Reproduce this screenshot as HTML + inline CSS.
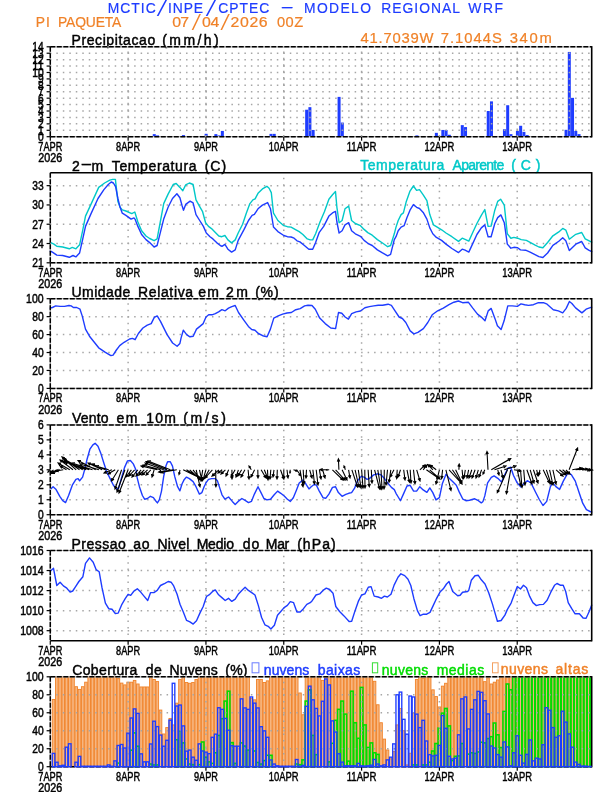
<!DOCTYPE html>
<html><head><meta charset="utf-8"><title>Meteograma WRF - PI PAQUETA</title>
<style>
html,body{margin:0;padding:0;background:#fff;}
svg{display:block;}
text{font-family:'Liberation Sans', Arial, sans-serif;}
</style></head>
<body>
<svg width="612" height="792" viewBox="0 0 612 792">
<rect x="0" y="0" width="612" height="792" fill="#fff"/>
<text transform="translate(107.76,13.00) scale(0.92,1)" font-size="15.1" fill="#1e3cff" stroke="#1e3cff" stroke-width="0.2" textLength="52.14" lengthAdjust="spacing">MCTIC</text>
<text transform="translate(156.17,13.93) scale(1.764,1)" style="font-family:&quot;DejaVu Sans&quot;,sans-serif;font-weight:200" font-size="19.10" fill="#1e3cff" stroke="#1e3cff" stroke-width="0.0">/</text>
<text transform="translate(168.12,13.00) scale(0.92,1)" font-size="15.1" fill="#1e3cff" stroke="#1e3cff" stroke-width="0.2" textLength="37.91" lengthAdjust="spacing">INPE</text>
<text transform="translate(205.27,13.93) scale(1.764,1)" style="font-family:&quot;DejaVu Sans&quot;,sans-serif;font-weight:200" font-size="19.10" fill="#1e3cff" stroke="#1e3cff" stroke-width="0.0">/</text>
<text transform="translate(218.29,13.00) scale(0.92,1)" font-size="15.1" fill="#1e3cff" stroke="#1e3cff" stroke-width="0.2" textLength="55.58" lengthAdjust="spacing">CPTEC</text>
<text transform="translate(280.16,11.91) scale(2.740,1)" font-size="15.1" fill="#1e3cff" stroke="#1e3cff" stroke-width="0.263">-</text>
<text transform="translate(303.96,13.00) scale(0.92,1)" font-size="15.1" fill="#1e3cff" stroke="#1e3cff" stroke-width="0.2" textLength="72.83" lengthAdjust="spacing">MODELO</text>
<text transform="translate(381.26,13.00) scale(0.92,1)" font-size="15.1" fill="#1e3cff" stroke="#1e3cff" stroke-width="0.2" textLength="85.65" lengthAdjust="spacing">REGIONAL</text>
<text transform="translate(468.14,13.00) scale(0.92,1)" font-size="15.1" fill="#1e3cff" stroke="#1e3cff" stroke-width="0.2" textLength="37.95" lengthAdjust="spacing">WRF</text>
<text transform="translate(35.76,26.70) scale(0.92,1)" font-size="15.1" fill="#f08228" stroke="#f08228" stroke-width="0.2" textLength="15.24" lengthAdjust="spacing">PI</text>
<text transform="translate(58.06,26.70) scale(0.92,1)" font-size="15.1" fill="#f08228" stroke="#f08228" stroke-width="0.2" textLength="68.66" lengthAdjust="spacing">PAQUETA</text>
<text transform="translate(172.28,26.70) scale(1.05,1)" font-size="15.1" fill="#f08228" stroke="#f08228" stroke-width="0.2" textLength="16.02" lengthAdjust="spacing">07</text>
<text transform="translate(191.23,27.97) scale(1.617,1)" style="font-family:&quot;DejaVu Sans&quot;,sans-serif;font-weight:200" font-size="18.62" fill="#f08228" stroke="#f08228" stroke-width="0.0">/</text>
<text transform="translate(201.98,26.70) scale(1.05,1)" font-size="15.1" fill="#f08228" stroke="#f08228" stroke-width="0.2" textLength="16.56" lengthAdjust="spacing">04</text>
<text transform="translate(219.92,27.97) scale(1.634,1)" style="font-family:&quot;DejaVu Sans&quot;,sans-serif;font-weight:200" font-size="18.62" fill="#f08228" stroke="#f08228" stroke-width="0.0">/</text>
<text transform="translate(230.40,26.70) scale(1.05,1)" font-size="15.1" fill="#f08228" stroke="#f08228" stroke-width="0.2" textLength="35.52" lengthAdjust="spacing">2026</text>
<text transform="translate(277.03,26.70) scale(0.97,1)" font-size="15.1" fill="#f08228" stroke="#f08228" stroke-width="0.2" textLength="26.94" lengthAdjust="spacing">00Z</text>
<text transform="translate(360.56,42.90) scale(0.97,1)" font-size="15.3" fill="#f08228" stroke="#f08228" stroke-width="0.2" textLength="75.15" lengthAdjust="spacing">41.7039W</text>
<text transform="translate(440.84,42.90) scale(0.97,1)" font-size="15.3" fill="#f08228" stroke="#f08228" stroke-width="0.2" textLength="62.83" lengthAdjust="spacing">7.1044S</text>
<text transform="translate(509.63,42.90) scale(0.97,1)" font-size="15.3" fill="#f08228" stroke="#f08228" stroke-width="0.2" textLength="43.65" lengthAdjust="spacing">340m</text>
<text transform="translate(71.45,45.00) scale(1.0,1)" font-size="14.0" fill="#000" stroke="#000" stroke-width="0.45" textLength="83.74" lengthAdjust="spacing">Precipitacao</text>
<text transform="translate(162.23,45.00) scale(1.0,1)" font-size="14.0" fill="#000" stroke="#000" stroke-width="0.45" textLength="56.44" lengthAdjust="spacing">(mm/h)</text>
<text transform="translate(71.90,170.80) scale(1.0,1)" font-size="14.0" fill="#000" stroke="#000" stroke-width="0.45" textLength="9.11" lengthAdjust="spacing">2</text>
<text transform="translate(80.26,169.32) scale(2.633,1)" font-size="14.0" fill="#000" stroke="#000" stroke-width="0.273">-</text>
<text transform="translate(91.57,170.80) scale(1.0,1)" font-size="14.0" fill="#000" stroke="#000" stroke-width="0.45" textLength="12.45" lengthAdjust="spacing">m</text>
<text transform="translate(111.79,170.80) scale(1.0,1)" font-size="14.0" fill="#000" stroke="#000" stroke-width="0.45" textLength="84.81" lengthAdjust="spacing">Temperatura</text>
<text transform="translate(204.73,170.80) scale(1.0,1)" font-size="14.0" fill="#000" stroke="#000" stroke-width="0.45" textLength="21.34" lengthAdjust="spacing">(C)</text>
<text transform="translate(360.19,170.30) scale(1.0,1)" font-size="14.0" fill="#00c8c8" stroke="#00c8c8" stroke-width="0.45" textLength="84.11" lengthAdjust="spacing">Temperatura</text>
<text transform="translate(452.57,170.30) scale(1.0,1)" font-size="14.0" fill="#00c8c8" stroke="#00c8c8" stroke-width="0.45" textLength="51.75" lengthAdjust="spacing">Aparente</text>
<text transform="translate(511.13,170.30) scale(1.0,1)" font-size="14.0" fill="#00c8c8" stroke="#00c8c8" stroke-width="0.45" textLength="29.34" lengthAdjust="spacing">(C)</text>
<text transform="translate(71.52,296.70) scale(1.0,1)" font-size="14.0" fill="#000" stroke="#000" stroke-width="0.45" textLength="58.90" lengthAdjust="spacing">Umidade</text>
<text transform="translate(137.95,296.70) scale(1.0,1)" font-size="14.0" fill="#000" stroke="#000" stroke-width="0.45" textLength="55.15" lengthAdjust="spacing">Relativa</text>
<text transform="translate(198.21,296.70) scale(1.0,1)" font-size="14.0" fill="#000" stroke="#000" stroke-width="0.45" textLength="20.62" lengthAdjust="spacing">em</text>
<text transform="translate(225.90,296.70) scale(1.0,1)" font-size="14.0" fill="#000" stroke="#000" stroke-width="0.45" textLength="22.03" lengthAdjust="spacing">2m</text>
<text transform="translate(255.13,296.70) scale(1.0,1)" font-size="14.0" fill="#000" stroke="#000" stroke-width="0.45" textLength="23.44" lengthAdjust="spacing">(%)</text>
<text transform="translate(72.04,422.80) scale(1.0,1)" font-size="14.0" fill="#000" stroke="#000" stroke-width="0.45" textLength="36.55" lengthAdjust="spacing">Vento</text>
<text transform="translate(116.41,422.80) scale(1.0,1)" font-size="14.0" fill="#000" stroke="#000" stroke-width="0.45" textLength="21.12" lengthAdjust="spacing">em</text>
<text transform="translate(146.33,422.80) scale(1.0,1)" font-size="14.0" fill="#000" stroke="#000" stroke-width="0.45" textLength="29.69" lengthAdjust="spacing">10m</text>
<text transform="translate(183.23,422.80) scale(1.0,1)" font-size="14.0" fill="#000" stroke="#000" stroke-width="0.45" textLength="42.64" lengthAdjust="spacing">(m/s)</text>
<text transform="translate(71.45,549.00) scale(1.0,1)" font-size="14.0" fill="#000" stroke="#000" stroke-width="0.45" textLength="54.34" lengthAdjust="spacing">Pressao</text>
<text transform="translate(133.31,549.00) scale(1.0,1)" font-size="14.0" fill="#000" stroke="#000" stroke-width="0.45" textLength="16.18" lengthAdjust="spacing">ao</text>
<text transform="translate(157.45,549.00) scale(1.0,1)" font-size="14.0" fill="#000" stroke="#000" stroke-width="0.45" textLength="31.98" lengthAdjust="spacing">Nivel</text>
<text transform="translate(196.65,549.00) scale(1.0,1)" font-size="14.0" fill="#000" stroke="#000" stroke-width="0.45" textLength="37.34" lengthAdjust="spacing">Medio</text>
<text transform="translate(242.71,549.00) scale(1.0,1)" font-size="14.0" fill="#000" stroke="#000" stroke-width="0.45" textLength="16.68" lengthAdjust="spacing">do</text>
<text transform="translate(265.85,549.00) scale(1.0,1)" font-size="14.0" fill="#000" stroke="#000" stroke-width="0.45" textLength="23.38" lengthAdjust="spacing">Mar</text>
<text transform="translate(297.13,549.00) scale(1.0,1)" font-size="14.0" fill="#000" stroke="#000" stroke-width="0.45" textLength="38.54" lengthAdjust="spacing">(hPa)</text>
<text transform="translate(72.19,674.80) scale(1.0,1)" font-size="14.0" fill="#000" stroke="#000" stroke-width="0.45" textLength="65.21" lengthAdjust="spacing">Cobertura</text>
<text transform="translate(145.81,674.80) scale(1.0,1)" font-size="14.0" fill="#000" stroke="#000" stroke-width="0.45" textLength="15.91" lengthAdjust="spacing">de</text>
<text transform="translate(169.45,674.80) scale(1.0,1)" font-size="14.0" fill="#000" stroke="#000" stroke-width="0.45" textLength="48.25" lengthAdjust="spacing">Nuvens</text>
<text transform="translate(225.33,674.80) scale(1.0,1)" font-size="14.0" fill="#000" stroke="#000" stroke-width="0.45" textLength="22.14" lengthAdjust="spacing">(%)</text>
<rect x="252.1" y="662.8" width="6.8" height="10.0" fill="none" stroke="#6a7cff" stroke-width="1"/>
<text transform="translate(263.77,674.50) scale(1.0,1)" font-size="14.0" fill="#1e3cff" stroke="#1e3cff" stroke-width="0.45" textLength="45.54" lengthAdjust="spacing">nuvens</text>
<text transform="translate(317.70,674.50) scale(1.0,1)" font-size="14.0" fill="#1e3cff" stroke="#1e3cff" stroke-width="0.45" textLength="42.61" lengthAdjust="spacing">baixas</text>
<rect x="372.4" y="662.8" width="5.3" height="10.0" fill="none" stroke="#33dd33" stroke-width="1"/>
<text transform="translate(381.77,674.50) scale(1.0,1)" font-size="14.0" fill="#00dc00" stroke="#00dc00" stroke-width="0.45" textLength="46.54" lengthAdjust="spacing">nuvens</text>
<text transform="translate(436.67,674.50) scale(1.0,1)" font-size="14.0" fill="#00dc00" stroke="#00dc00" stroke-width="0.45" textLength="47.54" lengthAdjust="spacing">medias</text>
<rect x="492.5" y="662.8" width="5.6" height="10.0" fill="none" stroke="#f4a060" stroke-width="1"/>
<text transform="translate(500.77,674.30) scale(1.0,1)" font-size="14.0" fill="#f08228" stroke="#f08228" stroke-width="0.45" textLength="47.24" lengthAdjust="spacing">nuvens</text>
<text transform="translate(555.51,674.30) scale(1.0,1)" font-size="14.0" fill="#f08228" stroke="#f08228" stroke-width="0.45" textLength="32.70" lengthAdjust="spacing">altas</text>
<rect x="152.76" y="134.13" width="3.0" height="2.57" fill="#1e3cff"/>
<rect x="156.00" y="135.42" width="3.0" height="1.28" fill="#1e3cff"/>
<rect x="181.94" y="135.09" width="3.0" height="1.61" fill="#1e3cff"/>
<rect x="204.64" y="133.81" width="3.0" height="2.89" fill="#1e3cff"/>
<rect x="214.37" y="134.13" width="3.0" height="2.57" fill="#1e3cff"/>
<rect x="217.61" y="135.42" width="3.0" height="1.28" fill="#1e3cff"/>
<rect x="220.85" y="130.92" width="3.0" height="5.78" fill="#1e3cff"/>
<rect x="269.49" y="133.87" width="3.0" height="2.83" fill="#1e3cff"/>
<rect x="272.73" y="133.87" width="3.0" height="2.83" fill="#1e3cff"/>
<rect x="305.16" y="109.73" width="3.0" height="26.97" fill="#1e3cff"/>
<rect x="308.40" y="107.16" width="3.0" height="29.54" fill="#1e3cff"/>
<rect x="311.64" y="129.96" width="3.0" height="6.74" fill="#1e3cff"/>
<rect x="321.37" y="136.06" width="3.0" height="0.64" fill="#1e3cff"/>
<rect x="337.58" y="96.89" width="3.0" height="39.81" fill="#1e3cff"/>
<rect x="340.82" y="122.57" width="3.0" height="14.13" fill="#1e3cff"/>
<rect x="386.22" y="136.06" width="3.0" height="0.64" fill="#1e3cff"/>
<rect x="389.46" y="136.06" width="3.0" height="0.64" fill="#1e3cff"/>
<rect x="392.71" y="136.06" width="3.0" height="0.64" fill="#1e3cff"/>
<rect x="415.40" y="135.42" width="3.0" height="1.28" fill="#1e3cff"/>
<rect x="434.86" y="132.85" width="3.0" height="3.85" fill="#1e3cff"/>
<rect x="441.34" y="129.96" width="3.0" height="6.74" fill="#1e3cff"/>
<rect x="444.59" y="129.96" width="3.0" height="6.74" fill="#1e3cff"/>
<rect x="447.83" y="134.77" width="3.0" height="1.93" fill="#1e3cff"/>
<rect x="460.80" y="125.14" width="3.0" height="11.56" fill="#1e3cff"/>
<rect x="464.04" y="127.07" width="3.0" height="9.63" fill="#1e3cff"/>
<rect x="467.28" y="136.06" width="3.0" height="0.64" fill="#1e3cff"/>
<rect x="486.74" y="111.01" width="3.0" height="25.69" fill="#1e3cff"/>
<rect x="489.98" y="101.38" width="3.0" height="35.32" fill="#1e3cff"/>
<rect x="502.95" y="129.25" width="3.0" height="7.45" fill="#1e3cff"/>
<rect x="506.19" y="105.23" width="3.0" height="31.47" fill="#1e3cff"/>
<rect x="509.44" y="134.13" width="3.0" height="2.57" fill="#1e3cff"/>
<rect x="515.92" y="130.92" width="3.0" height="5.78" fill="#1e3cff"/>
<rect x="519.16" y="125.78" width="3.0" height="10.92" fill="#1e3cff"/>
<rect x="522.41" y="131.88" width="3.0" height="4.82" fill="#1e3cff"/>
<rect x="525.65" y="135.09" width="3.0" height="1.61" fill="#1e3cff"/>
<rect x="535.38" y="136.06" width="3.0" height="0.64" fill="#1e3cff"/>
<rect x="554.83" y="136.06" width="3.0" height="0.64" fill="#1e3cff"/>
<rect x="564.56" y="129.83" width="3.0" height="6.87" fill="#1e3cff"/>
<rect x="567.80" y="51.94" width="3.0" height="84.76" fill="#1e3cff"/>
<rect x="571.04" y="97.85" width="3.0" height="38.85" fill="#1e3cff"/>
<rect x="574.29" y="130.92" width="3.0" height="5.78" fill="#1e3cff"/>
<rect x="577.53" y="134.13" width="3.0" height="2.57" fill="#1e3cff"/>
<rect x="580.77" y="136.06" width="3.0" height="0.64" fill="#1e3cff"/>
<line x1="50.3" y1="130.28" x2="591.7" y2="130.28" stroke="#a6a6a6" stroke-width="1.5" stroke-dasharray="1.5 4.985" stroke-dashoffset="0.45"/>
<line x1="50.3" y1="123.86" x2="591.7" y2="123.86" stroke="#a6a6a6" stroke-width="1.5" stroke-dasharray="1.5 4.985" stroke-dashoffset="0.45"/>
<line x1="50.3" y1="117.44" x2="591.7" y2="117.44" stroke="#a6a6a6" stroke-width="1.5" stroke-dasharray="1.5 4.985" stroke-dashoffset="0.45"/>
<line x1="50.3" y1="111.01" x2="591.7" y2="111.01" stroke="#a6a6a6" stroke-width="1.5" stroke-dasharray="1.5 4.985" stroke-dashoffset="0.45"/>
<line x1="50.3" y1="104.59" x2="591.7" y2="104.59" stroke="#a6a6a6" stroke-width="1.5" stroke-dasharray="1.5 4.985" stroke-dashoffset="0.45"/>
<line x1="50.3" y1="98.17" x2="591.7" y2="98.17" stroke="#a6a6a6" stroke-width="1.5" stroke-dasharray="1.5 4.985" stroke-dashoffset="0.45"/>
<line x1="50.3" y1="91.75" x2="591.7" y2="91.75" stroke="#a6a6a6" stroke-width="1.5" stroke-dasharray="1.5 4.985" stroke-dashoffset="0.45"/>
<line x1="50.3" y1="85.33" x2="591.7" y2="85.33" stroke="#a6a6a6" stroke-width="1.5" stroke-dasharray="1.5 4.985" stroke-dashoffset="0.45"/>
<line x1="50.3" y1="78.91" x2="591.7" y2="78.91" stroke="#a6a6a6" stroke-width="1.5" stroke-dasharray="1.5 4.985" stroke-dashoffset="0.45"/>
<line x1="50.3" y1="72.49" x2="591.7" y2="72.49" stroke="#a6a6a6" stroke-width="1.5" stroke-dasharray="1.5 4.985" stroke-dashoffset="0.45"/>
<line x1="50.3" y1="66.06" x2="591.7" y2="66.06" stroke="#a6a6a6" stroke-width="1.5" stroke-dasharray="1.5 4.985" stroke-dashoffset="0.45"/>
<line x1="50.3" y1="59.64" x2="591.7" y2="59.64" stroke="#a6a6a6" stroke-width="1.5" stroke-dasharray="1.5 4.985" stroke-dashoffset="0.45"/>
<line x1="50.3" y1="53.22" x2="591.7" y2="53.22" stroke="#a6a6a6" stroke-width="1.5" stroke-dasharray="1.5 4.985" stroke-dashoffset="0.45"/>
<line x1="128.12" y1="136.7" x2="128.12" y2="46.8" stroke="#a6a6a6" stroke-width="1.5" stroke-dasharray="2.4 4.021" stroke-dashoffset="0.6"/>
<line x1="205.94" y1="136.7" x2="205.94" y2="46.8" stroke="#a6a6a6" stroke-width="1.5" stroke-dasharray="2.4 4.021" stroke-dashoffset="0.6"/>
<line x1="283.76" y1="136.7" x2="283.76" y2="46.8" stroke="#a6a6a6" stroke-width="1.5" stroke-dasharray="2.4 4.021" stroke-dashoffset="0.6"/>
<line x1="361.58" y1="136.7" x2="361.58" y2="46.8" stroke="#a6a6a6" stroke-width="1.5" stroke-dasharray="2.4 4.021" stroke-dashoffset="0.6"/>
<line x1="439.40" y1="136.7" x2="439.40" y2="46.8" stroke="#a6a6a6" stroke-width="1.5" stroke-dasharray="2.4 4.021" stroke-dashoffset="0.6"/>
<line x1="517.22" y1="136.7" x2="517.22" y2="46.8" stroke="#a6a6a6" stroke-width="1.5" stroke-dasharray="2.4 4.021" stroke-dashoffset="0.6"/>
<line x1="50.3" y1="46.8" x2="591.7" y2="46.8" stroke="#b4b4b4" stroke-width="1.2"/>
<line x1="50.3" y1="136.7" x2="591.7" y2="136.7" stroke="#b4b4b4" stroke-width="1.2"/>
<line x1="50.3" y1="46.8" x2="50.3" y2="136.7" stroke="#b4b4b4" stroke-width="1.2"/>
<line x1="50.3" y1="46.8" x2="591.7" y2="46.8" stroke="#000" stroke-width="1.5" stroke-dasharray="5 1.5"/>
<line x1="50.3" y1="136.7" x2="591.7" y2="136.7" stroke="#000" stroke-width="1.5" stroke-dasharray="5 1.5"/>
<line x1="50.3" y1="46.8" x2="50.3" y2="136.7" stroke="#000" stroke-width="1.5" stroke-dasharray="5 1.5"/>
<line x1="591.7" y1="46.099999999999994" x2="591.7" y2="137.39999999999998" stroke="#000" stroke-width="1.6"/>
<line x1="46.6" y1="136.70" x2="50.3" y2="136.70" stroke="#000" stroke-width="1.2"/>
<text x="37.90" y="141.05" font-size="12.1" fill="#000" stroke="#000" stroke-width="0.45" textLength="5.70" lengthAdjust="spacingAndGlyphs">0</text>
<line x1="46.6" y1="130.28" x2="50.3" y2="130.28" stroke="#000" stroke-width="1.2"/>
<text x="37.90" y="134.63" font-size="12.1" fill="#000" stroke="#000" stroke-width="0.45" textLength="5.70" lengthAdjust="spacingAndGlyphs">1</text>
<line x1="46.6" y1="123.86" x2="50.3" y2="123.86" stroke="#000" stroke-width="1.2"/>
<text x="37.90" y="128.21" font-size="12.1" fill="#000" stroke="#000" stroke-width="0.45" textLength="5.70" lengthAdjust="spacingAndGlyphs">2</text>
<line x1="46.6" y1="117.44" x2="50.3" y2="117.44" stroke="#000" stroke-width="1.2"/>
<text x="37.90" y="121.79" font-size="12.1" fill="#000" stroke="#000" stroke-width="0.45" textLength="5.70" lengthAdjust="spacingAndGlyphs">3</text>
<line x1="46.6" y1="111.01" x2="50.3" y2="111.01" stroke="#000" stroke-width="1.2"/>
<text x="37.90" y="115.36" font-size="12.1" fill="#000" stroke="#000" stroke-width="0.45" textLength="5.70" lengthAdjust="spacingAndGlyphs">4</text>
<line x1="46.6" y1="104.59" x2="50.3" y2="104.59" stroke="#000" stroke-width="1.2"/>
<text x="37.90" y="108.94" font-size="12.1" fill="#000" stroke="#000" stroke-width="0.45" textLength="5.70" lengthAdjust="spacingAndGlyphs">5</text>
<line x1="46.6" y1="98.17" x2="50.3" y2="98.17" stroke="#000" stroke-width="1.2"/>
<text x="37.90" y="102.52" font-size="12.1" fill="#000" stroke="#000" stroke-width="0.45" textLength="5.70" lengthAdjust="spacingAndGlyphs">6</text>
<line x1="46.6" y1="91.75" x2="50.3" y2="91.75" stroke="#000" stroke-width="1.2"/>
<text x="37.90" y="96.10" font-size="12.1" fill="#000" stroke="#000" stroke-width="0.45" textLength="5.70" lengthAdjust="spacingAndGlyphs">7</text>
<line x1="46.6" y1="85.33" x2="50.3" y2="85.33" stroke="#000" stroke-width="1.2"/>
<text x="37.90" y="89.68" font-size="12.1" fill="#000" stroke="#000" stroke-width="0.45" textLength="5.70" lengthAdjust="spacingAndGlyphs">8</text>
<line x1="46.6" y1="78.91" x2="50.3" y2="78.91" stroke="#000" stroke-width="1.2"/>
<text x="37.90" y="83.26" font-size="12.1" fill="#000" stroke="#000" stroke-width="0.45" textLength="5.70" lengthAdjust="spacingAndGlyphs">9</text>
<line x1="46.6" y1="72.49" x2="50.3" y2="72.49" stroke="#000" stroke-width="1.2"/>
<text x="32.20" y="76.84" font-size="12.1" fill="#000" stroke="#000" stroke-width="0.45" textLength="11.40" lengthAdjust="spacingAndGlyphs">10</text>
<line x1="46.6" y1="66.06" x2="50.3" y2="66.06" stroke="#000" stroke-width="1.2"/>
<text x="32.20" y="70.41" font-size="12.1" fill="#000" stroke="#000" stroke-width="0.45" textLength="11.40" lengthAdjust="spacingAndGlyphs">11</text>
<line x1="46.6" y1="59.64" x2="50.3" y2="59.64" stroke="#000" stroke-width="1.2"/>
<text x="32.20" y="63.99" font-size="12.1" fill="#000" stroke="#000" stroke-width="0.45" textLength="11.40" lengthAdjust="spacingAndGlyphs">12</text>
<line x1="46.6" y1="53.22" x2="50.3" y2="53.22" stroke="#000" stroke-width="1.2"/>
<text x="32.20" y="57.57" font-size="12.1" fill="#000" stroke="#000" stroke-width="0.45" textLength="11.40" lengthAdjust="spacingAndGlyphs">13</text>
<line x1="46.6" y1="46.80" x2="50.3" y2="46.80" stroke="#000" stroke-width="1.2"/>
<text x="32.20" y="51.15" font-size="12.1" fill="#000" stroke="#000" stroke-width="0.45" textLength="11.40" lengthAdjust="spacingAndGlyphs">14</text>
<line x1="50.30" y1="136.7" x2="50.30" y2="140.7" stroke="#000" stroke-width="1.2"/>
<text x="38.25" y="150.70" font-size="12.4" fill="#000" stroke="#000" stroke-width="0.45" textLength="24.10" lengthAdjust="spacingAndGlyphs">7APR</text>
<line x1="128.12" y1="136.7" x2="128.12" y2="140.7" stroke="#000" stroke-width="1.2"/>
<text x="116.07" y="150.70" font-size="12.4" fill="#000" stroke="#000" stroke-width="0.45" textLength="24.10" lengthAdjust="spacingAndGlyphs">8APR</text>
<line x1="205.94" y1="136.7" x2="205.94" y2="140.7" stroke="#000" stroke-width="1.2"/>
<text x="193.89" y="150.70" font-size="12.4" fill="#000" stroke="#000" stroke-width="0.45" textLength="24.10" lengthAdjust="spacingAndGlyphs">9APR</text>
<line x1="283.76" y1="136.7" x2="283.76" y2="140.7" stroke="#000" stroke-width="1.2"/>
<text x="268.86" y="150.70" font-size="12.4" fill="#000" stroke="#000" stroke-width="0.45" textLength="29.80" lengthAdjust="spacingAndGlyphs">10APR</text>
<line x1="361.58" y1="136.7" x2="361.58" y2="140.7" stroke="#000" stroke-width="1.2"/>
<text x="346.68" y="150.70" font-size="12.4" fill="#000" stroke="#000" stroke-width="0.45" textLength="29.80" lengthAdjust="spacingAndGlyphs">11APR</text>
<line x1="439.40" y1="136.7" x2="439.40" y2="140.7" stroke="#000" stroke-width="1.2"/>
<text x="424.50" y="150.70" font-size="12.4" fill="#000" stroke="#000" stroke-width="0.45" textLength="29.80" lengthAdjust="spacingAndGlyphs">12APR</text>
<line x1="517.22" y1="136.7" x2="517.22" y2="140.7" stroke="#000" stroke-width="1.2"/>
<text x="502.32" y="150.70" font-size="12.4" fill="#000" stroke="#000" stroke-width="0.45" textLength="29.80" lengthAdjust="spacingAndGlyphs">13APR</text>
<text x="38.30" y="162.00" font-size="12.4" fill="#000" stroke="#000" stroke-width="0.45" textLength="24.00" lengthAdjust="spacingAndGlyphs">2026</text>
<line x1="50.3" y1="243.51" x2="591.7" y2="243.51" stroke="#a6a6a6" stroke-width="1.5" stroke-dasharray="1.5 4.985" stroke-dashoffset="0.45"/>
<line x1="50.3" y1="224.23" x2="591.7" y2="224.23" stroke="#a6a6a6" stroke-width="1.5" stroke-dasharray="1.5 4.985" stroke-dashoffset="0.45"/>
<line x1="50.3" y1="204.94" x2="591.7" y2="204.94" stroke="#a6a6a6" stroke-width="1.5" stroke-dasharray="1.5 4.985" stroke-dashoffset="0.45"/>
<line x1="50.3" y1="185.66" x2="591.7" y2="185.66" stroke="#a6a6a6" stroke-width="1.5" stroke-dasharray="1.5 4.985" stroke-dashoffset="0.45"/>
<line x1="128.12" y1="262.8" x2="128.12" y2="172.8" stroke="#a6a6a6" stroke-width="1.5" stroke-dasharray="1.5 4.985" stroke-dashoffset="0.75"/>
<line x1="205.94" y1="262.8" x2="205.94" y2="172.8" stroke="#a6a6a6" stroke-width="1.5" stroke-dasharray="1.5 4.985" stroke-dashoffset="0.75"/>
<line x1="283.76" y1="262.8" x2="283.76" y2="172.8" stroke="#a6a6a6" stroke-width="1.5" stroke-dasharray="1.5 4.985" stroke-dashoffset="0.75"/>
<line x1="361.58" y1="262.8" x2="361.58" y2="172.8" stroke="#a6a6a6" stroke-width="1.5" stroke-dasharray="1.5 4.985" stroke-dashoffset="0.75"/>
<line x1="439.40" y1="262.8" x2="439.40" y2="172.8" stroke="#a6a6a6" stroke-width="1.5" stroke-dasharray="1.5 4.985" stroke-dashoffset="0.75"/>
<line x1="517.22" y1="262.8" x2="517.22" y2="172.8" stroke="#a6a6a6" stroke-width="1.5" stroke-dasharray="1.5 4.985" stroke-dashoffset="0.75"/>
<polyline points="50.2,242.3 53.9,244.1 56.8,246.3 62.7,247.0 69.3,248.8 72.3,247.4 75.9,248.8 79.6,244.8 82.6,230.8 85.5,216.1 90.6,205.1 98.7,187.4 104.6,183.0 109.8,180.1 112.7,179.4 115.4,179.4 115.9,183.8 117.9,201.4 120.1,207.3 122.3,209.9 125.9,211.0 131.8,213.6 134.8,212.0 137.9,222.0 141.6,230.8 146.0,236.0 149.7,238.5 154.1,240.7 157.1,238.9 160.0,223.5 163.7,203.6 168.1,194.1 173.2,184.5 176.2,183.5 179.9,187.4 182.8,190.8 185.7,184.9 189.4,183.0 193.1,184.5 196.0,199.9 199.7,206.6 202.6,211.7 205.6,222.7 208.5,226.4 211.5,228.6 215.1,232.3 218.8,236.0 221.8,236.7 224.9,235.5 227.9,239.9 231.6,242.9 235.2,239.9 238.2,233.0 242.6,224.2 246.3,213.2 249.9,203.6 252.9,199.9 255.1,198.8 258.0,193.3 262.4,188.9 266.9,186.3 269.1,188.2 271.3,192.6 273.5,213.2 277.9,220.5 283.8,225.7 287.4,226.7 291.1,227.1 295.5,229.6 299.2,231.6 302.9,234.5 307.3,238.9 310.2,239.9 312.7,239.9 315.6,233.8 320.0,222.0 324.4,211.7 328.9,199.2 332.5,194.8 335.5,191.6 336.9,207.3 339.1,222.7 342.1,220.5 345.0,208.8 348.7,206.1 351.6,220.5 355.3,223.5 360.5,225.7 364.1,229.4 367.8,232.6 372.2,235.2 377.4,239.6 382.5,243.0 387.7,246.7 390.6,245.5 394.3,233.8 396.0,227.1 398.2,220.5 401.1,214.6 403.4,212.9 406.3,201.4 410.0,191.1 413.4,186.0 416.6,190.4 419.5,189.6 423.2,194.8 426.9,200.7 429.8,214.6 433.5,224.9 437.2,227.1 441.6,229.8 446.0,233.0 451.9,236.7 458.5,241.4 462.2,238.2 465.1,239.4 468.8,241.1 472.5,233.0 476.9,223.5 481.3,215.4 484.8,209.5 488.1,226.4 491.1,226.1 494.8,210.2 497.7,201.4 500.6,199.2 504.3,205.1 507.3,233.8 510.9,238.2 513.9,237.4 517.6,238.2 521.2,239.6 526.4,240.4 530.1,242.3 535.2,245.1 538.9,247.0 542.9,247.8 547.6,242.5 552.9,235.8 558.8,231.9 562.7,228.4 565.8,230.1 569.3,239.2 575.8,234.3 581.7,232.5 585.2,238.9 588.7,240.7 591.7,242.2" fill="none" stroke="#00c8c8" stroke-width="1.4" stroke-linejoin="round" stroke-linecap="round"/>
<polyline points="50.2,251.0 52.4,252.1 56.8,255.1 62.7,255.5 69.3,257.3 73.0,255.5 75.9,256.9 79.6,252.9 82.6,239.6 85.5,226.4 90.6,214.6 98.0,198.5 103.9,189.6 108.3,184.5 111.2,182.0 113.4,183.0 115.6,186.7 117.9,198.5 120.1,207.3 122.3,213.2 125.9,215.4 131.1,219.1 134.0,217.9 135.0,219.1 137.9,226.4 141.6,234.5 146.0,239.6 149.7,242.6 154.1,247.0 157.1,245.5 160.0,233.8 163.7,219.1 168.1,207.3 172.5,198.5 176.9,193.8 179.9,197.7 182.1,205.8 183.5,210.2 185.7,204.4 190.1,201.1 193.1,202.9 196.0,214.6 199.7,220.5 203.4,226.4 206.3,233.0 210.0,236.7 212.9,238.9 216.6,242.6 220.3,245.5 222.0,246.3 224.9,244.4 227.9,249.2 231.6,252.1 235.2,249.9 238.2,240.4 244.1,229.4 248.5,220.5 252.1,215.4 254.4,214.4 258.0,208.8 262.4,205.1 267.6,202.6 270.5,208.8 273.5,227.1 277.9,231.6 283.8,235.5 287.4,236.7 291.1,237.0 294.1,238.2 297.0,240.8 299.9,241.9 304.4,245.5 308.8,249.2 312.7,249.2 315.6,242.6 319.3,232.3 323.7,226.4 328.9,216.1 332.5,212.9 335.5,211.4 336.9,222.0 339.1,233.0 342.1,230.8 345.0,224.9 348.7,222.7 351.6,230.8 355.3,233.8 360.5,236.3 364.1,240.4 367.8,243.3 372.2,245.5 377.4,249.9 382.5,252.9 387.7,255.8 390.6,254.4 394.3,239.6 396.0,236.7 398.2,230.8 401.1,227.1 404.1,225.7 407.0,217.6 410.0,210.2 413.4,204.6 416.6,207.3 419.5,208.5 423.2,212.4 426.9,219.1 429.8,227.9 432.8,233.8 436.4,237.4 441.6,240.4 446.0,244.1 451.9,248.5 458.5,252.6 462.2,249.2 465.1,250.2 468.8,252.1 472.5,244.1 476.9,234.5 481.3,227.9 484.8,224.9 488.1,236.7 491.1,236.7 494.8,223.5 497.7,217.6 500.9,214.9 504.3,222.7 507.3,244.1 510.9,248.2 513.9,247.3 517.6,247.7 520.5,249.9 525.6,250.2 530.1,252.1 534.5,254.4 538.9,256.6 542.9,257.5 547.6,253.0 552.9,245.4 558.8,241.3 562.7,237.8 565.8,240.7 569.3,250.5 575.8,244.2 581.7,241.5 585.2,247.8 588.7,250.1 591.7,251.6" fill="none" stroke="#1e3cff" stroke-width="1.4" stroke-linejoin="round" stroke-linecap="round"/>
<line x1="50.3" y1="262.8" x2="591.7" y2="262.8" stroke="#b4b4b4" stroke-width="1.2"/>
<line x1="50.3" y1="172.8" x2="50.3" y2="262.8" stroke="#b4b4b4" stroke-width="1.2"/>
<line x1="50.3" y1="172.8" x2="591.7" y2="172.8" stroke="#000" stroke-width="1.5" />
<line x1="50.3" y1="262.8" x2="591.7" y2="262.8" stroke="#000" stroke-width="1.5" stroke-dasharray="5 1.5"/>
<line x1="50.3" y1="172.8" x2="50.3" y2="262.8" stroke="#000" stroke-width="1.5" stroke-dasharray="5 1.5"/>
<line x1="591.7" y1="172.10000000000002" x2="591.7" y2="263.5" stroke="#000" stroke-width="1.6"/>
<line x1="46.6" y1="262.80" x2="50.3" y2="262.80" stroke="#000" stroke-width="1.2"/>
<text x="32.20" y="267.15" font-size="12.1" fill="#000" stroke="#000" stroke-width="0.45" textLength="11.40" lengthAdjust="spacingAndGlyphs">21</text>
<line x1="46.6" y1="243.51" x2="50.3" y2="243.51" stroke="#000" stroke-width="1.2"/>
<text x="32.20" y="247.86" font-size="12.1" fill="#000" stroke="#000" stroke-width="0.45" textLength="11.40" lengthAdjust="spacingAndGlyphs">24</text>
<line x1="46.6" y1="224.23" x2="50.3" y2="224.23" stroke="#000" stroke-width="1.2"/>
<text x="32.20" y="228.58" font-size="12.1" fill="#000" stroke="#000" stroke-width="0.45" textLength="11.40" lengthAdjust="spacingAndGlyphs">27</text>
<line x1="46.6" y1="204.94" x2="50.3" y2="204.94" stroke="#000" stroke-width="1.2"/>
<text x="32.20" y="209.29" font-size="12.1" fill="#000" stroke="#000" stroke-width="0.45" textLength="11.40" lengthAdjust="spacingAndGlyphs">30</text>
<line x1="46.6" y1="185.66" x2="50.3" y2="185.66" stroke="#000" stroke-width="1.2"/>
<text x="32.20" y="190.01" font-size="12.1" fill="#000" stroke="#000" stroke-width="0.45" textLength="11.40" lengthAdjust="spacingAndGlyphs">33</text>
<line x1="50.30" y1="262.8" x2="50.30" y2="266.8" stroke="#000" stroke-width="1.2"/>
<text x="38.25" y="276.80" font-size="12.4" fill="#000" stroke="#000" stroke-width="0.45" textLength="24.10" lengthAdjust="spacingAndGlyphs">7APR</text>
<line x1="128.12" y1="262.8" x2="128.12" y2="266.8" stroke="#000" stroke-width="1.2"/>
<text x="116.07" y="276.80" font-size="12.4" fill="#000" stroke="#000" stroke-width="0.45" textLength="24.10" lengthAdjust="spacingAndGlyphs">8APR</text>
<line x1="205.94" y1="262.8" x2="205.94" y2="266.8" stroke="#000" stroke-width="1.2"/>
<text x="193.89" y="276.80" font-size="12.4" fill="#000" stroke="#000" stroke-width="0.45" textLength="24.10" lengthAdjust="spacingAndGlyphs">9APR</text>
<line x1="283.76" y1="262.8" x2="283.76" y2="266.8" stroke="#000" stroke-width="1.2"/>
<text x="268.86" y="276.80" font-size="12.4" fill="#000" stroke="#000" stroke-width="0.45" textLength="29.80" lengthAdjust="spacingAndGlyphs">10APR</text>
<line x1="361.58" y1="262.8" x2="361.58" y2="266.8" stroke="#000" stroke-width="1.2"/>
<text x="346.68" y="276.80" font-size="12.4" fill="#000" stroke="#000" stroke-width="0.45" textLength="29.80" lengthAdjust="spacingAndGlyphs">11APR</text>
<line x1="439.40" y1="262.8" x2="439.40" y2="266.8" stroke="#000" stroke-width="1.2"/>
<text x="424.50" y="276.80" font-size="12.4" fill="#000" stroke="#000" stroke-width="0.45" textLength="29.80" lengthAdjust="spacingAndGlyphs">12APR</text>
<line x1="517.22" y1="262.8" x2="517.22" y2="266.8" stroke="#000" stroke-width="1.2"/>
<text x="502.32" y="276.80" font-size="12.4" fill="#000" stroke="#000" stroke-width="0.45" textLength="29.80" lengthAdjust="spacingAndGlyphs">13APR</text>
<text x="38.30" y="288.10" font-size="12.4" fill="#000" stroke="#000" stroke-width="0.45" textLength="24.00" lengthAdjust="spacingAndGlyphs">2026</text>
<line x1="50.3" y1="370.46" x2="591.7" y2="370.46" stroke="#a6a6a6" stroke-width="1.5" stroke-dasharray="1.5 4.985" stroke-dashoffset="0.45"/>
<line x1="50.3" y1="352.52" x2="591.7" y2="352.52" stroke="#a6a6a6" stroke-width="1.5" stroke-dasharray="1.5 4.985" stroke-dashoffset="0.45"/>
<line x1="50.3" y1="334.58" x2="591.7" y2="334.58" stroke="#a6a6a6" stroke-width="1.5" stroke-dasharray="1.5 4.985" stroke-dashoffset="0.45"/>
<line x1="50.3" y1="316.64" x2="591.7" y2="316.64" stroke="#a6a6a6" stroke-width="1.5" stroke-dasharray="1.5 4.985" stroke-dashoffset="0.45"/>
<line x1="128.12" y1="388.4" x2="128.12" y2="298.7" stroke="#a6a6a6" stroke-width="1.5" stroke-dasharray="1.5 4.985" stroke-dashoffset="0.75"/>
<line x1="205.94" y1="388.4" x2="205.94" y2="298.7" stroke="#a6a6a6" stroke-width="1.5" stroke-dasharray="1.5 4.985" stroke-dashoffset="0.75"/>
<line x1="283.76" y1="388.4" x2="283.76" y2="298.7" stroke="#a6a6a6" stroke-width="1.5" stroke-dasharray="1.5 4.985" stroke-dashoffset="0.75"/>
<line x1="361.58" y1="388.4" x2="361.58" y2="298.7" stroke="#a6a6a6" stroke-width="1.5" stroke-dasharray="1.5 4.985" stroke-dashoffset="0.75"/>
<line x1="439.40" y1="388.4" x2="439.40" y2="298.7" stroke="#a6a6a6" stroke-width="1.5" stroke-dasharray="1.5 4.985" stroke-dashoffset="0.75"/>
<line x1="517.22" y1="388.4" x2="517.22" y2="298.7" stroke="#a6a6a6" stroke-width="1.5" stroke-dasharray="1.5 4.985" stroke-dashoffset="0.75"/>
<polyline points="50.2,308.1 52.4,307.5 55.7,305.9 60.1,306.4 64.5,306.4 69.0,305.5 71.2,305.9 73.4,307.5 76.7,307.5 80.0,309.2 82.2,315.9 85.5,329.1 89.9,336.8 94.3,342.3 98.7,347.8 105.4,352.3 110.9,355.6 113.1,355.1 116.4,350.0 119.7,345.6 124.1,342.3 129.6,339.0 132.5,338.4 135.1,339.7 138.4,333.5 142.9,328.0 147.3,325.1 151.2,323.6 154.3,317.4 157.2,315.9 160.5,321.4 167.1,334.6 172.6,343.0 177.1,346.3 179.9,343.4 181.1,337.9 183.3,330.2 186.6,334.6 189.9,336.8 193.2,336.2 196.5,329.1 199.9,326.4 203.2,323.6 206.0,317.0 208.7,314.8 212.0,314.8 215.3,313.6 218.6,311.9 221.9,309.7 225.2,310.8 228.5,308.1 231.8,306.6 235.2,305.5 238.5,312.5 244.0,320.3 248.4,326.4 251.7,329.5 255.0,330.2 258.3,333.5 262.7,335.7 267.1,336.8 270.4,329.1 273.8,318.1 278.2,315.9 282.6,314.1 287.0,313.0 291.4,312.5 295.8,309.7 300.2,308.6 304.6,305.9 308.0,305.3 312.0,305.5 315.3,309.2 319.7,318.1 325.2,323.6 330.8,328.0 335.6,328.6 338.5,312.5 341.8,313.2 345.1,317.0 348.4,319.2 351.7,313.6 356.1,311.9 360.5,311.0 364.9,307.7 369.4,306.6 373.8,305.9 378.2,305.3 382.6,305.3 388.1,304.2 391.4,305.3 394.7,310.3 399.1,317.0 402.4,318.5 405.8,322.5 410.2,330.9 413.9,333.9 417.9,332.4 423.4,328.6 427.8,322.5 432.2,314.8 437.7,310.8 443.3,308.1 449.0,304.7 453.9,302.2 458.4,301.0 462.6,302.7 468.3,302.2 472.6,307.9 477.5,314.1 481.3,317.1 485.0,320.8 488.2,310.9 491.2,308.4 494.9,318.4 497.4,325.8 501.1,329.5 504.1,320.8 507.8,305.9 512.3,305.9 517.3,306.4 521.0,303.9 524.7,304.7 528.5,305.4 533.4,304.7 538.4,302.7 543.4,302.7 547.1,304.2 553.3,309.7 558.3,310.9 562.7,312.9 566.2,308.4 569.4,301.5 571.9,303.5 575.6,307.9 581.9,312.9 586.1,309.2 591.7,307.2" fill="none" stroke="#1e3cff" stroke-width="1.4" stroke-linejoin="round" stroke-linecap="round"/>
<line x1="50.3" y1="298.7" x2="591.7" y2="298.7" stroke="#b4b4b4" stroke-width="1.2"/>
<line x1="50.3" y1="388.4" x2="591.7" y2="388.4" stroke="#b4b4b4" stroke-width="1.2"/>
<line x1="50.3" y1="298.7" x2="50.3" y2="388.4" stroke="#b4b4b4" stroke-width="1.2"/>
<line x1="50.3" y1="298.7" x2="591.7" y2="298.7" stroke="#000" stroke-width="1.5" stroke-dasharray="5 1.5"/>
<line x1="50.3" y1="388.4" x2="591.7" y2="388.4" stroke="#000" stroke-width="1.5" stroke-dasharray="5 1.5"/>
<line x1="50.3" y1="298.7" x2="50.3" y2="388.4" stroke="#000" stroke-width="1.5" stroke-dasharray="5 1.5"/>
<line x1="591.7" y1="298.0" x2="591.7" y2="389.09999999999997" stroke="#000" stroke-width="1.6"/>
<line x1="46.6" y1="388.40" x2="50.3" y2="388.40" stroke="#000" stroke-width="1.2"/>
<text x="37.90" y="392.75" font-size="12.1" fill="#000" stroke="#000" stroke-width="0.45" textLength="5.70" lengthAdjust="spacingAndGlyphs">0</text>
<line x1="46.6" y1="370.46" x2="50.3" y2="370.46" stroke="#000" stroke-width="1.2"/>
<text x="32.20" y="374.81" font-size="12.1" fill="#000" stroke="#000" stroke-width="0.45" textLength="11.40" lengthAdjust="spacingAndGlyphs">20</text>
<line x1="46.6" y1="352.52" x2="50.3" y2="352.52" stroke="#000" stroke-width="1.2"/>
<text x="32.20" y="356.87" font-size="12.1" fill="#000" stroke="#000" stroke-width="0.45" textLength="11.40" lengthAdjust="spacingAndGlyphs">40</text>
<line x1="46.6" y1="334.58" x2="50.3" y2="334.58" stroke="#000" stroke-width="1.2"/>
<text x="32.20" y="338.93" font-size="12.1" fill="#000" stroke="#000" stroke-width="0.45" textLength="11.40" lengthAdjust="spacingAndGlyphs">60</text>
<line x1="46.6" y1="316.64" x2="50.3" y2="316.64" stroke="#000" stroke-width="1.2"/>
<text x="32.20" y="320.99" font-size="12.1" fill="#000" stroke="#000" stroke-width="0.45" textLength="11.40" lengthAdjust="spacingAndGlyphs">80</text>
<line x1="46.6" y1="298.70" x2="50.3" y2="298.70" stroke="#000" stroke-width="1.2"/>
<text x="26.05" y="303.05" font-size="12.1" fill="#000" stroke="#000" stroke-width="0.45" textLength="17.55" lengthAdjust="spacingAndGlyphs">100</text>
<line x1="50.30" y1="388.4" x2="50.30" y2="392.4" stroke="#000" stroke-width="1.2"/>
<text x="38.25" y="402.40" font-size="12.4" fill="#000" stroke="#000" stroke-width="0.45" textLength="24.10" lengthAdjust="spacingAndGlyphs">7APR</text>
<line x1="128.12" y1="388.4" x2="128.12" y2="392.4" stroke="#000" stroke-width="1.2"/>
<text x="116.07" y="402.40" font-size="12.4" fill="#000" stroke="#000" stroke-width="0.45" textLength="24.10" lengthAdjust="spacingAndGlyphs">8APR</text>
<line x1="205.94" y1="388.4" x2="205.94" y2="392.4" stroke="#000" stroke-width="1.2"/>
<text x="193.89" y="402.40" font-size="12.4" fill="#000" stroke="#000" stroke-width="0.45" textLength="24.10" lengthAdjust="spacingAndGlyphs">9APR</text>
<line x1="283.76" y1="388.4" x2="283.76" y2="392.4" stroke="#000" stroke-width="1.2"/>
<text x="268.86" y="402.40" font-size="12.4" fill="#000" stroke="#000" stroke-width="0.45" textLength="29.80" lengthAdjust="spacingAndGlyphs">10APR</text>
<line x1="361.58" y1="388.4" x2="361.58" y2="392.4" stroke="#000" stroke-width="1.2"/>
<text x="346.68" y="402.40" font-size="12.4" fill="#000" stroke="#000" stroke-width="0.45" textLength="29.80" lengthAdjust="spacingAndGlyphs">11APR</text>
<line x1="439.40" y1="388.4" x2="439.40" y2="392.4" stroke="#000" stroke-width="1.2"/>
<text x="424.50" y="402.40" font-size="12.4" fill="#000" stroke="#000" stroke-width="0.45" textLength="29.80" lengthAdjust="spacingAndGlyphs">12APR</text>
<line x1="517.22" y1="388.4" x2="517.22" y2="392.4" stroke="#000" stroke-width="1.2"/>
<text x="502.32" y="402.40" font-size="12.4" fill="#000" stroke="#000" stroke-width="0.45" textLength="29.80" lengthAdjust="spacingAndGlyphs">13APR</text>
<text x="38.30" y="413.70" font-size="12.4" fill="#000" stroke="#000" stroke-width="0.45" textLength="24.00" lengthAdjust="spacingAndGlyphs">2026</text>
<line x1="50.3" y1="499.73" x2="591.7" y2="499.73" stroke="#a6a6a6" stroke-width="1.5" stroke-dasharray="1.5 4.985" stroke-dashoffset="0.45"/>
<line x1="50.3" y1="484.77" x2="591.7" y2="484.77" stroke="#a6a6a6" stroke-width="1.5" stroke-dasharray="1.5 4.985" stroke-dashoffset="0.45"/>
<line x1="50.3" y1="454.83" x2="591.7" y2="454.83" stroke="#a6a6a6" stroke-width="1.5" stroke-dasharray="1.5 4.985" stroke-dashoffset="0.45"/>
<line x1="50.3" y1="439.87" x2="591.7" y2="439.87" stroke="#a6a6a6" stroke-width="1.5" stroke-dasharray="1.5 4.985" stroke-dashoffset="0.45"/>
<line x1="128.12" y1="514.7" x2="128.12" y2="424.9" stroke="#a6a6a6" stroke-width="1.5" stroke-dasharray="1.5 4.985" stroke-dashoffset="0.75"/>
<line x1="205.94" y1="514.7" x2="205.94" y2="424.9" stroke="#a6a6a6" stroke-width="1.5" stroke-dasharray="1.5 4.985" stroke-dashoffset="0.75"/>
<line x1="283.76" y1="514.7" x2="283.76" y2="424.9" stroke="#a6a6a6" stroke-width="1.5" stroke-dasharray="1.5 4.985" stroke-dashoffset="0.75"/>
<line x1="361.58" y1="514.7" x2="361.58" y2="424.9" stroke="#a6a6a6" stroke-width="1.5" stroke-dasharray="1.5 4.985" stroke-dashoffset="0.75"/>
<line x1="439.40" y1="514.7" x2="439.40" y2="424.9" stroke="#a6a6a6" stroke-width="1.5" stroke-dasharray="1.5 4.985" stroke-dashoffset="0.75"/>
<line x1="517.22" y1="514.7" x2="517.22" y2="424.9" stroke="#a6a6a6" stroke-width="1.5" stroke-dasharray="1.5 4.985" stroke-dashoffset="0.75"/>
<polyline points="50.2,489.6 53.1,486.7 56.1,489.6 59.8,496.3 62.7,500.7 65.6,502.6 68.6,495.5 72.3,485.2 75.9,479.4 78.1,478.6 79.6,480.8 82.6,477.1 84.8,469.1 87.0,459.5 89.9,449.2 92.9,444.8 95.1,443.3 98.0,446.3 100.9,453.6 103.9,463.2 106.8,472.0 110.5,479.4 113.4,485.2 116.4,488.9 118.6,488.2 121.5,477.9 124.5,467.6 127.4,461.0 130.4,460.5 133.3,463.9 136.2,470.5 137.2,477.9 139.4,486.7 142.4,495.5 144.6,499.2 147.5,498.5 150.4,496.3 153.4,497.7 155.6,500.7 157.4,502.9 159.3,499.9 161.5,491.1 163.7,476.4 165.9,466.1 167.6,461.7 170.3,461.7 172.5,466.1 174.7,476.4 177.6,486.7 179.9,490.8 182.1,483.8 184.3,479.4 186.5,477.1 189.4,478.6 193.1,481.6 196.0,486.7 199.4,494.1 201.9,492.6 204.1,486.7 206.3,482.3 208.5,479.4 211.5,478.6 215.1,478.6 217.4,480.8 220.3,489.6 222.0,494.8 224.9,499.2 228.6,497.0 232.3,501.4 235.2,504.4 238.2,501.4 241.9,498.5 245.5,500.7 248.5,502.6 251.4,501.4 254.4,494.1 258.0,486.7 261.0,492.6 263.9,498.5 266.9,499.9 270.5,499.2 274.2,494.8 277.6,491.1 280.8,493.3 284.5,496.3 287.4,499.2 290.4,501.4 293.3,497.7 296.3,490.4 299.2,483.0 302.9,480.1 305.8,483.8 309.0,488.9 311.2,486.7 314.1,484.5 316.4,485.2 319.3,491.1 323.0,497.7 325.9,498.2 328.9,494.1 332.5,487.4 335.5,486.7 338.4,492.6 342.1,496.3 345.8,494.4 348.7,493.3 351.6,492.6 354.6,488.2 357.5,480.8 361.2,476.4 364.1,477.1 367.1,479.4 369.3,478.6 373.7,474.9 378.1,473.8 381.1,474.9 384.0,477.9 388.4,483.8 391.4,487.4 394.3,489.6 396.0,493.3 398.2,497.0 400.4,500.7 403.4,494.1 407.0,486.0 410.0,485.2 413.6,491.1 416.6,491.1 419.8,486.7 423.2,489.9 426.9,492.3 429.8,487.9 432.8,492.6 436.0,499.9 439.4,497.7 442.3,483.8 446.0,474.2 448.9,477.9 452.6,481.6 456.3,485.2 459.2,491.9 462.9,499.2 465.9,500.7 469.5,500.2 474.7,498.8 478.4,500.7 481.3,502.9 483.0,501.4 484.8,495.9 487.6,482.9 491.3,477.4 494.1,475.9 497.8,478.3 501.5,482.0 505.2,473.7 507.9,468.2 510.7,467.2 513.5,475.5 517.2,482.9 520.9,487.0 523.6,483.9 527.3,480.7 531.0,482.9 535.6,492.2 539.3,499.5 543.0,505.5 546.7,501.4 550.4,486.6 552.8,482.9 555.9,486.6 559.6,489.4 563.3,481.1 567.9,472.8 571.3,474.6 575.3,481.1 579.0,492.2 582.7,503.2 586.4,509.7 590.1,511.5 591.7,512.0" fill="none" stroke="#1e3cff" stroke-width="1.4" stroke-linejoin="round" stroke-linecap="round"/>
<path d="M50.3,469.8L48.0,472.0M49.5,471.5L48.0,472.0L48.6,470.5M53.5,469.8L50.5,472.5M52.4,471.9L50.5,472.5L51.3,470.6M56.8,469.8L51.5,473.0M54.5,472.7L51.5,473.0L53.2,470.5M60.0,469.8L52.0,473.5M55.0,473.5L52.0,473.5L53.9,471.2M63.3,469.8L56.0,471.0M58.9,471.8L56.0,471.0L58.5,469.3M66.5,469.8L60.0,466.0M61.7,468.5L60.0,466.0L63.0,466.3M69.8,469.8L58.0,463.0M59.7,465.5L58.0,463.0L61.0,463.3M73.0,469.8L60.0,460.0M61.4,462.6L60.0,460.0L62.9,460.6M76.2,469.8L62.0,457.0M63.2,459.8L62.0,457.0L64.9,457.9M79.5,469.8L63.0,458.0M64.5,460.6L63.0,458.0L65.9,458.6M82.7,469.8L64.0,459.0M65.7,461.5L64.0,459.0L67.0,459.3M86.0,469.8L63.0,461.0M65.1,463.2L63.0,461.0L66.0,460.8M89.2,469.8L65.0,462.0M67.2,464.0L65.0,462.0L68.0,461.6M92.5,469.8L72.0,463.0M74.2,465.1L72.0,463.0L75.0,462.7M95.7,469.8L78.0,460.5M79.8,462.9L78.0,460.5L81.0,460.6M98.9,469.8L80.0,464.0M82.2,466.0L80.0,464.0L83.0,463.6M102.2,469.8L88.0,463.0M89.9,465.3L88.0,463.0L91.0,463.0M105.4,469.8L92.0,464.0M94.0,466.2L92.0,464.0L95.0,463.9M108.7,469.8L96.0,466.0M98.2,468.0L96.0,466.0L99.0,465.6M111.9,469.8L104.0,473.0M107.0,473.2L104.0,473.0L106.0,470.8M115.2,469.8L108.0,474.0M111.0,473.7L108.0,474.0L109.7,471.5M118.4,469.8L111.5,481.0M114.0,479.3L111.5,481.0L111.8,478.0M121.6,469.8L115.0,489.0M117.1,486.8L115.0,489.0L114.7,486.0M124.9,469.8L117.0,492.0M119.1,489.9L117.0,492.0L116.7,489.0M128.1,469.8L119.0,493.0M121.2,490.9L119.0,493.0L118.8,490.0M131.4,469.8L126.0,477.0M128.6,475.6L126.0,477.0L126.6,474.1M134.6,469.8L129.0,476.0M131.8,474.8L129.0,476.0L129.9,473.1M137.8,469.8L132.0,477.0M134.7,475.7L132.0,477.0L132.7,474.1M141.1,469.8L136.0,476.0M138.7,474.7L136.0,476.0L136.7,473.1M144.3,469.8L139.0,475.0M141.8,474.0L139.0,475.0L140.1,472.2M147.6,469.8L142.0,475.0M144.9,474.1L142.0,475.0L143.1,472.2M150.8,469.8L146.0,475.0M148.8,473.9L146.0,475.0L146.9,472.1M154.1,469.8L152.0,477.0M154.0,474.7L152.0,477.0L151.5,474.0M157.3,469.8L141.0,466.0M143.4,467.9L141.0,466.0L143.9,465.4M160.5,469.8L143.0,465.0M145.3,466.9L143.0,465.0L146.0,464.5M163.8,469.8L145.0,463.0M147.1,465.1L145.0,463.0L148.0,462.7M167.0,469.8L146.0,461.5M148.1,463.7L146.0,461.5L149.0,461.3M170.3,469.8L148.0,461.0M150.1,463.2L148.0,461.0L151.0,460.8M173.5,469.8L158.6,472.0M161.5,472.9L158.6,472.0L161.1,470.3M176.8,469.8L161.0,472.5M163.9,473.3L161.0,472.5L163.5,470.8M180.0,469.8L179.0,474.5M180.4,472.6L179.0,474.5L178.5,472.2M183.2,469.8L200.0,478.0M198.1,475.7L200.0,478.0L197.0,477.9M186.5,469.8L201.0,479.0M199.4,476.5L201.0,479.0L198.0,478.6M189.7,469.8L201.0,480.0M199.8,477.2L201.0,480.0L198.1,479.1M193.0,469.8L201.0,480.0M200.3,477.1L201.0,480.0L198.3,478.6M196.2,469.8L200.0,486.7M200.6,483.8L200.0,486.7L198.2,484.3M199.5,469.8L202.0,481.0M202.6,478.1L202.0,481.0L200.2,478.6M202.7,469.8L201.0,481.0M202.7,478.5L201.0,481.0L200.2,478.1M205.9,469.8L203.0,480.0M205.0,477.7L203.0,480.0L202.5,477.0M209.2,469.8L204.0,479.0M206.4,477.3L204.0,479.0L204.2,476.0M212.4,469.8L205.0,478.0M207.8,476.8L205.0,478.0L205.9,475.1M215.7,469.8L215.9,486.7M217.1,484.0L215.9,486.7L214.6,484.0M218.9,469.8L212.0,476.0M214.9,475.1L212.0,476.0L213.2,473.2M222.2,469.8L218.0,473.0M220.6,472.4L218.0,473.0L219.2,470.7M225.4,469.8L221.0,474.0M223.8,473.0L221.0,474.0L222.1,471.2M228.6,469.8L226.0,476.0M228.2,474.0L226.0,476.0L225.9,473.0M231.9,469.8L232.0,479.0M233.2,476.3L232.0,479.0L230.7,476.3M235.1,469.8L231.0,477.0M233.5,475.3L231.0,477.0L231.3,474.0M238.4,469.8L236.0,477.0M238.1,474.8L236.0,477.0L235.6,474.0M241.6,469.8L238.0,476.0M240.5,474.3L238.0,476.0L238.3,473.0M244.9,469.8L241.0,477.0M243.4,475.2L241.0,477.0L241.2,474.0M248.1,469.8L249.0,479.0M250.0,476.2L249.0,479.0L247.5,476.4M251.3,469.8L249.0,466.0M249.3,468.2L249.0,466.0L250.9,467.2M254.6,469.8L251.0,477.0M253.3,475.1L251.0,477.0L251.1,474.0M257.8,469.8L258.0,478.0M259.2,475.3L258.0,478.0L256.7,475.3M261.1,469.8L266.0,478.0M265.7,475.0L266.0,478.0L263.5,476.3M264.3,469.8L268.0,479.0M268.2,476.0L268.0,479.0L265.8,476.9M267.5,469.8L268.0,480.0M269.1,477.2L268.0,480.0L266.6,477.3M270.8,469.8L270.0,479.0M271.5,476.4L270.0,479.0L269.0,476.2M274.0,469.8L273.0,477.0M274.6,474.5L273.0,477.0L272.1,474.1M277.3,469.8L277.0,479.0M278.3,476.3L277.0,479.0L275.8,476.2M280.5,469.8L283.8,479.0M284.1,476.0L283.8,479.0L281.7,476.9M283.8,469.8L283.8,479.0M285.1,476.3L283.8,479.0L282.5,476.3M287.0,469.8L288.0,478.0M288.9,475.1L288.0,478.0L286.4,475.5M290.2,469.8L290.0,473.0M290.8,471.6L290.0,473.0L289.4,471.5M293.5,469.8L297.0,471.0M295.7,469.7L297.0,471.0L295.2,471.2M296.7,469.8L301.0,476.0M300.5,473.0L301.0,476.0L298.4,474.5M300.0,469.8L303.0,486.7M303.8,483.8L303.0,486.7L301.3,484.2M303.2,469.8L304.0,484.0M305.1,481.2L304.0,484.0L302.6,481.4M306.5,469.8L306.0,478.0M307.4,475.4L306.0,478.0L304.9,475.2M309.7,469.8L312.0,478.0M312.5,475.0L312.0,478.0L310.0,475.7M312.9,469.8L314.5,484.0M315.5,481.2L314.5,484.0L312.9,481.4M316.2,469.8L318.0,485.0M318.9,482.1L318.0,485.0L316.4,482.5M319.4,469.8L321.0,479.0M321.8,476.1L321.0,479.0L319.3,476.5M322.7,469.8L325.0,478.0M325.5,475.0L325.0,478.0L323.0,475.7M325.9,469.8L320.0,469.5M322.6,470.9L320.0,469.5L322.7,468.4M329.2,469.8L326.0,470.0M327.5,470.6L326.0,470.0L327.4,469.2M332.4,469.8L343.0,480.0M341.9,477.2L343.0,480.0L340.2,479.0M335.6,469.8L345.0,480.0M344.1,477.1L345.0,480.0L342.2,478.9M338.9,469.8L338.4,458.8M337.3,461.6L338.4,458.8L339.8,461.5M342.1,469.8L347.0,480.0M347.0,477.0L347.0,480.0L344.7,478.1M345.4,469.8L344.0,466.0M343.8,468.0L344.0,466.0L345.4,467.4M348.6,469.8L350.0,478.0M350.8,475.1L350.0,478.0L348.3,475.5M351.9,469.8L357.5,487.0M357.9,484.0L357.5,487.0L355.4,484.8M355.1,469.8L359.0,487.0M359.6,484.1L359.0,487.0L357.2,484.6M358.3,469.8L361.0,488.0M361.9,485.1L361.0,488.0L359.4,485.5M361.6,469.8L363.0,488.0M364.1,485.2L363.0,488.0L361.5,485.4M364.8,469.8L365.0,488.0M366.2,485.3L365.0,488.0L363.7,485.3M368.1,469.8L369.3,486.7M370.4,483.9L369.3,486.7L367.8,484.1M371.3,469.8L372.0,483.0M373.1,480.2L372.0,483.0L370.6,480.4M374.6,469.8L379.6,489.0M380.1,486.0L379.6,489.0L377.7,486.7M377.8,469.8L381.0,489.5M381.8,486.6L381.0,489.5L379.3,487.0M381.0,469.8L382.0,489.0M383.1,486.2L382.0,489.0L380.6,486.3M384.3,469.8L384.0,489.0M385.3,486.3L384.0,489.0L382.8,486.3M387.5,469.8L386.0,485.0M387.5,482.4L386.0,485.0L385.0,482.2M390.8,469.8L389.0,482.3M390.6,479.8L389.0,482.3L388.1,479.4M394.0,469.8L390.0,477.0M392.4,475.2L390.0,477.0L390.2,474.0M397.2,469.8L396.7,478.6M398.1,476.0L396.7,478.6L395.6,475.8M400.5,469.8L398.0,477.0M400.1,474.8L398.0,477.0L397.7,474.0M403.7,469.8L405.0,480.0M405.9,477.1L405.0,480.0L403.4,477.5M407.0,469.8L409.5,482.3M410.2,479.4L409.5,482.3L407.7,479.9M410.2,469.8L411.0,483.0M412.1,480.2L411.0,483.0L409.6,480.4M413.5,469.8L415.0,483.8M416.0,481.0L415.0,483.8L413.4,481.2M416.7,469.8L420.0,481.0M420.4,478.0L420.0,481.0L418.0,478.7M419.9,469.8L425.0,465.0M422.2,466.0L425.0,465.0L423.9,467.8M423.2,469.8L427.0,465.0M424.3,466.3L427.0,465.0L426.3,467.9M426.4,469.8L439.0,478.6M437.5,476.0L439.0,478.6L436.0,478.1M429.7,469.8L440.0,479.0M438.8,476.2L440.0,479.0L437.1,478.1M432.9,469.8L428.0,464.6M428.9,467.4L428.0,464.6L430.8,465.7M436.2,469.8L430.0,465.0M431.4,467.7L430.0,465.0L432.9,465.7M439.4,469.8L436.0,484.0M437.9,481.7L436.0,484.0L435.4,481.1M442.6,469.8L441.6,478.6M443.2,476.0L441.6,478.6L440.7,475.8M445.9,469.8L451.0,490.4M451.6,487.5L451.0,490.4L449.1,488.1M449.1,469.8L462.0,484.0M461.1,481.1L462.0,484.0L459.2,482.8M452.4,469.8L462.0,484.0M461.5,481.0L462.0,484.0L459.4,482.5M455.6,469.8L462.0,483.0M462.0,480.0L462.0,483.0L459.7,481.1M458.9,469.8L459.2,464.0M457.8,466.6L459.2,464.0L460.3,466.7M462.1,469.8L463.0,479.0M464.0,476.2L463.0,479.0L461.5,476.4M465.3,469.8L464.0,478.0M465.7,475.5L464.0,478.0L463.2,475.1M468.6,469.8L467.0,478.0M468.8,475.6L467.0,478.0L466.3,475.1M471.8,469.8L469.0,478.0M471.1,475.8L469.0,478.0L468.7,475.0M475.1,469.8L472.0,478.0M474.1,475.9L472.0,478.0L471.8,475.0M478.3,469.8L476.0,478.0M478.0,475.7L476.0,478.0L475.5,475.0M481.6,469.8L479.0,477.0M481.1,474.9L479.0,477.0L478.7,474.0M484.8,469.8L483.0,474.0M484.7,472.5L483.0,474.0L482.9,471.7M488.0,469.8L487.0,451.5M485.9,454.3L487.0,451.5L488.4,454.1M491.3,469.8L510.7,458.6M507.7,458.9L510.7,458.6L509.0,461.1M494.5,469.8L506.0,466.0M503.0,465.7L506.0,466.0L503.8,468.1M497.8,469.8L499.0,475.0M499.5,472.4L499.0,475.0L497.3,472.9M501.0,469.8L503.0,478.0M503.6,475.1L503.0,478.0L501.1,475.7M504.3,469.8L516.0,466.0M513.0,465.6L516.0,466.0L513.8,468.0M507.5,469.8L497.3,492.7M499.6,490.7L497.3,492.7L497.2,489.7M510.7,469.8L506.4,493.8M508.1,491.3L506.4,493.8L505.6,490.9M514.0,469.8L521.0,471.0M518.5,469.3L521.0,471.0L518.1,471.8M517.2,469.8L521.0,486.0M521.6,483.1L521.0,486.0L519.1,483.6M520.5,469.8L522.0,487.5M523.0,484.7L522.0,487.5L520.5,484.9M523.7,469.8L525.0,485.0M526.0,482.2L525.0,485.0L523.5,482.4M526.9,469.8L532.0,484.0M532.3,481.0L532.0,484.0L529.9,481.9M530.2,469.8L534.0,483.0M534.5,480.0L534.0,483.0L532.0,480.7M533.4,469.8L538.0,483.0M538.3,480.0L538.0,483.0L535.9,480.8M536.7,469.8L538.0,476.0M538.7,473.1L538.0,476.0L536.2,473.6M539.9,469.8L539.0,475.0M540.5,472.8L539.0,475.0L538.3,472.4M543.2,469.8L549.5,483.0M549.5,480.0L549.5,483.0L547.2,481.1M546.4,469.8L551.0,484.0M551.4,481.0L551.0,484.0L549.0,481.8M549.6,469.8L553.0,485.0M553.7,482.1L553.0,485.0L551.2,482.6M552.9,469.8L556.0,484.0M556.7,481.1L556.0,484.0L554.2,481.6M556.1,469.8L563.0,476.0M561.8,473.2L563.0,476.0L560.1,475.1M559.4,469.8L566.0,475.0M564.6,472.3L566.0,475.0L563.1,474.3M562.6,469.8L568.0,474.0M566.6,471.3L568.0,474.0L565.1,473.3M565.9,469.8L570.0,474.0M569.0,471.2L570.0,474.0L567.2,473.0M569.1,469.8L577.6,448.0M575.4,450.1L577.6,448.0L577.8,451.0M572.3,469.8L582.0,468.0M579.1,467.3L582.0,468.0L579.6,469.7M575.6,469.8L585.0,469.0M582.2,468.0L585.0,469.0L582.4,470.5M578.8,469.8L588.0,469.0M585.2,468.0L588.0,469.0L585.4,470.5M582.1,469.8L590.0,470.0M587.3,468.7L590.0,470.0L587.2,471.2M585.3,469.8L591.5,470.0M588.8,468.6L591.5,470.0L588.7,471.2M588.6,469.8L592.0,470.0M590.5,469.2L592.0,470.0L590.4,470.6M591.8,469.8L592.5,470.0M592.2,469.8L592.5,470.0L592.1,470.1" fill="none" stroke="#000" stroke-width="1.1" stroke-linejoin="miter"/>
<line x1="50.3" y1="424.9" x2="591.7" y2="424.9" stroke="#b4b4b4" stroke-width="1.2"/>
<line x1="50.3" y1="514.7" x2="591.7" y2="514.7" stroke="#b4b4b4" stroke-width="1.2"/>
<line x1="50.3" y1="424.9" x2="50.3" y2="514.7" stroke="#b4b4b4" stroke-width="1.2"/>
<line x1="50.3" y1="424.9" x2="591.7" y2="424.9" stroke="#000" stroke-width="1.5" stroke-dasharray="5 1.5"/>
<line x1="50.3" y1="514.7" x2="591.7" y2="514.7" stroke="#000" stroke-width="1.5" stroke-dasharray="5 1.5"/>
<line x1="50.3" y1="424.9" x2="50.3" y2="514.7" stroke="#000" stroke-width="1.5" stroke-dasharray="5 1.5"/>
<line x1="591.7" y1="424.2" x2="591.7" y2="515.4000000000001" stroke="#000" stroke-width="1.6"/>
<line x1="46.6" y1="514.70" x2="50.3" y2="514.70" stroke="#000" stroke-width="1.2"/>
<text x="37.90" y="519.05" font-size="12.1" fill="#000" stroke="#000" stroke-width="0.45" textLength="5.70" lengthAdjust="spacingAndGlyphs">0</text>
<line x1="46.6" y1="499.73" x2="50.3" y2="499.73" stroke="#000" stroke-width="1.2"/>
<text x="37.90" y="504.08" font-size="12.1" fill="#000" stroke="#000" stroke-width="0.45" textLength="5.70" lengthAdjust="spacingAndGlyphs">1</text>
<line x1="46.6" y1="484.77" x2="50.3" y2="484.77" stroke="#000" stroke-width="1.2"/>
<text x="37.90" y="489.12" font-size="12.1" fill="#000" stroke="#000" stroke-width="0.45" textLength="5.70" lengthAdjust="spacingAndGlyphs">2</text>
<line x1="46.6" y1="469.80" x2="50.3" y2="469.80" stroke="#000" stroke-width="1.2"/>
<text x="37.90" y="474.15" font-size="12.1" fill="#000" stroke="#000" stroke-width="0.45" textLength="5.70" lengthAdjust="spacingAndGlyphs">3</text>
<line x1="46.6" y1="454.83" x2="50.3" y2="454.83" stroke="#000" stroke-width="1.2"/>
<text x="37.90" y="459.18" font-size="12.1" fill="#000" stroke="#000" stroke-width="0.45" textLength="5.70" lengthAdjust="spacingAndGlyphs">4</text>
<line x1="46.6" y1="439.87" x2="50.3" y2="439.87" stroke="#000" stroke-width="1.2"/>
<text x="37.90" y="444.22" font-size="12.1" fill="#000" stroke="#000" stroke-width="0.45" textLength="5.70" lengthAdjust="spacingAndGlyphs">5</text>
<line x1="46.6" y1="424.90" x2="50.3" y2="424.90" stroke="#000" stroke-width="1.2"/>
<text x="37.90" y="429.25" font-size="12.1" fill="#000" stroke="#000" stroke-width="0.45" textLength="5.70" lengthAdjust="spacingAndGlyphs">6</text>
<line x1="50.30" y1="514.7" x2="50.30" y2="518.7" stroke="#000" stroke-width="1.2"/>
<text x="38.25" y="528.70" font-size="12.4" fill="#000" stroke="#000" stroke-width="0.45" textLength="24.10" lengthAdjust="spacingAndGlyphs">7APR</text>
<line x1="128.12" y1="514.7" x2="128.12" y2="518.7" stroke="#000" stroke-width="1.2"/>
<text x="116.07" y="528.70" font-size="12.4" fill="#000" stroke="#000" stroke-width="0.45" textLength="24.10" lengthAdjust="spacingAndGlyphs">8APR</text>
<line x1="205.94" y1="514.7" x2="205.94" y2="518.7" stroke="#000" stroke-width="1.2"/>
<text x="193.89" y="528.70" font-size="12.4" fill="#000" stroke="#000" stroke-width="0.45" textLength="24.10" lengthAdjust="spacingAndGlyphs">9APR</text>
<line x1="283.76" y1="514.7" x2="283.76" y2="518.7" stroke="#000" stroke-width="1.2"/>
<text x="268.86" y="528.70" font-size="12.4" fill="#000" stroke="#000" stroke-width="0.45" textLength="29.80" lengthAdjust="spacingAndGlyphs">10APR</text>
<line x1="361.58" y1="514.7" x2="361.58" y2="518.7" stroke="#000" stroke-width="1.2"/>
<text x="346.68" y="528.70" font-size="12.4" fill="#000" stroke="#000" stroke-width="0.45" textLength="29.80" lengthAdjust="spacingAndGlyphs">11APR</text>
<line x1="439.40" y1="514.7" x2="439.40" y2="518.7" stroke="#000" stroke-width="1.2"/>
<text x="424.50" y="528.70" font-size="12.4" fill="#000" stroke="#000" stroke-width="0.45" textLength="29.80" lengthAdjust="spacingAndGlyphs">12APR</text>
<line x1="517.22" y1="514.7" x2="517.22" y2="518.7" stroke="#000" stroke-width="1.2"/>
<text x="502.32" y="528.70" font-size="12.4" fill="#000" stroke="#000" stroke-width="0.45" textLength="29.80" lengthAdjust="spacingAndGlyphs">13APR</text>
<text x="38.30" y="540.00" font-size="12.4" fill="#000" stroke="#000" stroke-width="0.45" textLength="24.00" lengthAdjust="spacingAndGlyphs">2026</text>
<line x1="50.3" y1="630.68" x2="591.7" y2="630.68" stroke="#a6a6a6" stroke-width="1.5" stroke-dasharray="1.5 4.985" stroke-dashoffset="0.45"/>
<line x1="50.3" y1="610.63" x2="591.7" y2="610.63" stroke="#a6a6a6" stroke-width="1.5" stroke-dasharray="1.5 4.985" stroke-dashoffset="0.45"/>
<line x1="50.3" y1="590.59" x2="591.7" y2="590.59" stroke="#a6a6a6" stroke-width="1.5" stroke-dasharray="1.5 4.985" stroke-dashoffset="0.45"/>
<line x1="50.3" y1="570.54" x2="591.7" y2="570.54" stroke="#a6a6a6" stroke-width="1.5" stroke-dasharray="1.5 4.985" stroke-dashoffset="0.45"/>
<line x1="128.12" y1="640.7" x2="128.12" y2="550.5" stroke="#a6a6a6" stroke-width="1.5" stroke-dasharray="1.5 4.985" stroke-dashoffset="0.75"/>
<line x1="205.94" y1="640.7" x2="205.94" y2="550.5" stroke="#a6a6a6" stroke-width="1.5" stroke-dasharray="1.5 4.985" stroke-dashoffset="0.75"/>
<line x1="283.76" y1="640.7" x2="283.76" y2="550.5" stroke="#a6a6a6" stroke-width="1.5" stroke-dasharray="1.5 4.985" stroke-dashoffset="0.75"/>
<line x1="361.58" y1="640.7" x2="361.58" y2="550.5" stroke="#a6a6a6" stroke-width="1.5" stroke-dasharray="1.5 4.985" stroke-dashoffset="0.75"/>
<line x1="439.40" y1="640.7" x2="439.40" y2="550.5" stroke="#a6a6a6" stroke-width="1.5" stroke-dasharray="1.5 4.985" stroke-dashoffset="0.75"/>
<line x1="517.22" y1="640.7" x2="517.22" y2="550.5" stroke="#a6a6a6" stroke-width="1.5" stroke-dasharray="1.5 4.985" stroke-dashoffset="0.75"/>
<polyline points="50.2,571.2 53.5,568.3 56.8,585.5 60.1,582.2 63.4,585.9 66.8,588.2 70.1,592.1 72.7,591.0 75.6,586.6 78.9,581.5 82.9,576.7 85.5,563.4 89.5,557.9 93.2,562.3 96.1,569.6 99.2,571.8 102.0,587.7 105.4,603.2 108.7,608.7 112.0,609.3 115.3,613.5 118.2,613.1 121.9,604.3 125.2,598.7 128.1,594.3 130.7,595.4 134.0,591.0 137.3,588.8 140.7,592.1 144.0,596.1 147.7,600.5 150.6,592.6 153.9,592.6 157.2,590.4 160.5,585.5 164.9,583.3 168.2,581.5 171.1,582.2 173.7,585.9 177.1,594.3 180.0,604.3 183.3,612.0 186.6,620.4 189.9,621.9 193.2,624.1 196.5,620.8 199.9,613.1 203.2,606.5 206.5,596.5 209.8,594.3 213.1,591.0 215.3,589.9 218.6,594.8 221.9,597.6 225.2,600.5 228.5,598.3 231.8,601.4 235.2,599.2 238.5,593.9 241.8,590.4 245.1,587.3 248.4,590.4 251.7,592.6 255.0,595.0 258.3,605.4 261.6,617.5 264.9,624.8 268.2,626.3 270.9,629.0 274.4,625.2 277.5,615.3 281.0,611.3 284.1,607.6 287.4,605.4 290.3,601.6 293.6,602.7 296.9,612.0 300.2,612.0 303.5,608.7 306.8,604.3 310.2,602.7 312.0,600.9 316.0,595.0 319.7,593.9 323.0,590.4 326.3,588.2 329.6,589.5 333.0,593.2 335.8,606.5 339.6,611.5 344.0,615.9 349.1,621.5 351.7,621.2 355.0,610.9 358.3,601.4 361.6,595.0 364.9,593.9 368.3,587.3 371.1,586.6 374.2,596.1 378.2,597.0 381.5,598.3 384.4,596.1 387.4,597.0 391.0,594.3 394.1,585.1 398.0,577.3 400.9,573.8 404.7,575.6 408.0,579.3 410.8,585.5 413.9,598.7 417.5,610.9 420.1,615.7 423.4,614.2 426.7,614.2 430.0,612.4 433.3,605.4 436.6,598.3 440.0,592.1 443.3,588.8 446.5,584.0 449.0,581.5 452.7,591.5 457.7,595.7 460.1,595.2 462.6,592.2 467.6,591.5 468.8,590.2 471.3,580.3 475.0,575.8 478.3,575.3 481.3,579.8 485.0,584.0 488.7,592.7 492.4,603.9 494.9,612.6 497.4,621.3 501.1,620.5 504.9,615.1 507.3,609.6 511.1,603.1 514.0,595.2 517.3,586.5 520.5,589.0 523.5,585.3 526.5,587.7 529.7,596.4 532.9,602.6 536.4,605.6 539.6,604.6 543.4,604.4 547.1,600.2 550.8,592.2 554.5,585.3 557.0,583.5 560.7,585.3 563.2,585.3 565.7,591.5 568.2,602.6 571.9,608.9 575.1,613.8 579.4,613.8 583.1,618.0 586.1,618.3 589.3,611.3 591.7,605.1" fill="none" stroke="#1e3cff" stroke-width="1.4" stroke-linejoin="round" stroke-linecap="round"/>
<line x1="50.3" y1="550.5" x2="591.7" y2="550.5" stroke="#b4b4b4" stroke-width="1.2"/>
<line x1="50.3" y1="550.5" x2="50.3" y2="640.7" stroke="#b4b4b4" stroke-width="1.2"/>
<line x1="50.3" y1="550.5" x2="591.7" y2="550.5" stroke="#000" stroke-width="1.5" stroke-dasharray="5 1.5"/>
<line x1="50.3" y1="640.7" x2="591.7" y2="640.7" stroke="#000" stroke-width="1.5" />
<line x1="50.3" y1="550.5" x2="50.3" y2="640.7" stroke="#000" stroke-width="1.5" stroke-dasharray="5 1.5"/>
<line x1="591.7" y1="549.8" x2="591.7" y2="641.4000000000001" stroke="#000" stroke-width="1.6"/>
<line x1="46.6" y1="630.68" x2="50.3" y2="630.68" stroke="#000" stroke-width="1.2"/>
<text x="20.20" y="635.03" font-size="12.1" fill="#000" stroke="#000" stroke-width="0.45" textLength="23.40" lengthAdjust="spacingAndGlyphs">1008</text>
<line x1="46.6" y1="610.63" x2="50.3" y2="610.63" stroke="#000" stroke-width="1.2"/>
<text x="20.20" y="614.98" font-size="12.1" fill="#000" stroke="#000" stroke-width="0.45" textLength="23.40" lengthAdjust="spacingAndGlyphs">1010</text>
<line x1="46.6" y1="590.59" x2="50.3" y2="590.59" stroke="#000" stroke-width="1.2"/>
<text x="20.20" y="594.94" font-size="12.1" fill="#000" stroke="#000" stroke-width="0.45" textLength="23.40" lengthAdjust="spacingAndGlyphs">1012</text>
<line x1="46.6" y1="570.54" x2="50.3" y2="570.54" stroke="#000" stroke-width="1.2"/>
<text x="20.20" y="574.89" font-size="12.1" fill="#000" stroke="#000" stroke-width="0.45" textLength="23.40" lengthAdjust="spacingAndGlyphs">1014</text>
<line x1="46.6" y1="550.50" x2="50.3" y2="550.50" stroke="#000" stroke-width="1.2"/>
<text x="20.20" y="554.85" font-size="12.1" fill="#000" stroke="#000" stroke-width="0.45" textLength="23.40" lengthAdjust="spacingAndGlyphs">1016</text>
<line x1="50.30" y1="640.7" x2="50.30" y2="644.7" stroke="#000" stroke-width="1.2"/>
<text x="38.25" y="654.70" font-size="12.4" fill="#000" stroke="#000" stroke-width="0.45" textLength="24.10" lengthAdjust="spacingAndGlyphs">7APR</text>
<line x1="128.12" y1="640.7" x2="128.12" y2="644.7" stroke="#000" stroke-width="1.2"/>
<text x="116.07" y="654.70" font-size="12.4" fill="#000" stroke="#000" stroke-width="0.45" textLength="24.10" lengthAdjust="spacingAndGlyphs">8APR</text>
<line x1="205.94" y1="640.7" x2="205.94" y2="644.7" stroke="#000" stroke-width="1.2"/>
<text x="193.89" y="654.70" font-size="12.4" fill="#000" stroke="#000" stroke-width="0.45" textLength="24.10" lengthAdjust="spacingAndGlyphs">9APR</text>
<line x1="283.76" y1="640.7" x2="283.76" y2="644.7" stroke="#000" stroke-width="1.2"/>
<text x="268.86" y="654.70" font-size="12.4" fill="#000" stroke="#000" stroke-width="0.45" textLength="29.80" lengthAdjust="spacingAndGlyphs">10APR</text>
<line x1="361.58" y1="640.7" x2="361.58" y2="644.7" stroke="#000" stroke-width="1.2"/>
<text x="346.68" y="654.70" font-size="12.4" fill="#000" stroke="#000" stroke-width="0.45" textLength="29.80" lengthAdjust="spacingAndGlyphs">11APR</text>
<line x1="439.40" y1="640.7" x2="439.40" y2="644.7" stroke="#000" stroke-width="1.2"/>
<text x="424.50" y="654.70" font-size="12.4" fill="#000" stroke="#000" stroke-width="0.45" textLength="29.80" lengthAdjust="spacingAndGlyphs">12APR</text>
<line x1="517.22" y1="640.7" x2="517.22" y2="644.7" stroke="#000" stroke-width="1.2"/>
<text x="502.32" y="654.70" font-size="12.4" fill="#000" stroke="#000" stroke-width="0.45" textLength="29.80" lengthAdjust="spacingAndGlyphs">13APR</text>
<text x="38.30" y="666.00" font-size="12.4" fill="#000" stroke="#000" stroke-width="0.45" textLength="24.00" lengthAdjust="spacingAndGlyphs">2026</text>
<clipPath id="c6"><rect x="47.3" y="673.8" width="544.4000000000001" height="95.90000000000009"/></clipPath>
<g clip-path="url(#c6)">
<rect x="52.25" y="699.54" width="2.59" height="67.16" fill="#f7b680" stroke="#f08228" stroke-width="0.9"/>
<rect x="55.49" y="676.80" width="2.59" height="89.90" fill="#f7b680" stroke="#f08228" stroke-width="0.9"/>
<rect x="58.73" y="676.80" width="2.59" height="89.90" fill="#f7b680" stroke="#f08228" stroke-width="0.9"/>
<rect x="61.97" y="676.80" width="2.59" height="89.90" fill="#f7b680" stroke="#f08228" stroke-width="0.9"/>
<rect x="65.22" y="676.80" width="2.59" height="89.90" fill="#f7b680" stroke="#f08228" stroke-width="0.9"/>
<rect x="68.46" y="676.80" width="2.59" height="89.90" fill="#f7b680" stroke="#f08228" stroke-width="0.9"/>
<rect x="71.70" y="676.80" width="2.59" height="89.90" fill="#f7b680" stroke="#f08228" stroke-width="0.9"/>
<rect x="74.94" y="686.69" width="2.59" height="80.01" fill="#f7b680" stroke="#f08228" stroke-width="0.9"/>
<rect x="78.19" y="689.39" width="2.59" height="77.31" fill="#f7b680" stroke="#f08228" stroke-width="0.9"/>
<rect x="81.43" y="686.69" width="2.59" height="80.01" fill="#f7b680" stroke="#f08228" stroke-width="0.9"/>
<rect x="84.67" y="682.19" width="2.59" height="84.51" fill="#f7b680" stroke="#f08228" stroke-width="0.9"/>
<rect x="87.91" y="676.80" width="2.59" height="89.90" fill="#f7b680" stroke="#f08228" stroke-width="0.9"/>
<rect x="91.16" y="676.80" width="2.59" height="89.90" fill="#f7b680" stroke="#f08228" stroke-width="0.9"/>
<rect x="94.40" y="676.80" width="2.59" height="89.90" fill="#f7b680" stroke="#f08228" stroke-width="0.9"/>
<rect x="97.64" y="676.80" width="2.59" height="89.90" fill="#f7b680" stroke="#f08228" stroke-width="0.9"/>
<rect x="100.88" y="676.80" width="2.59" height="89.90" fill="#f7b680" stroke="#f08228" stroke-width="0.9"/>
<rect x="104.13" y="676.80" width="2.59" height="89.90" fill="#f7b680" stroke="#f08228" stroke-width="0.9"/>
<rect x="107.37" y="676.80" width="2.59" height="89.90" fill="#f7b680" stroke="#f08228" stroke-width="0.9"/>
<rect x="110.61" y="676.80" width="2.59" height="89.90" fill="#f7b680" stroke="#f08228" stroke-width="0.9"/>
<rect x="113.85" y="676.80" width="2.59" height="89.90" fill="#f7b680" stroke="#f08228" stroke-width="0.9"/>
<rect x="117.10" y="678.60" width="2.59" height="88.10" fill="#f7b680" stroke="#f08228" stroke-width="0.9"/>
<rect x="120.34" y="683.09" width="2.59" height="83.61" fill="#f7b680" stroke="#f08228" stroke-width="0.9"/>
<rect x="123.58" y="684.89" width="2.59" height="81.81" fill="#f7b680" stroke="#f08228" stroke-width="0.9"/>
<rect x="126.82" y="682.19" width="2.59" height="84.51" fill="#f7b680" stroke="#f08228" stroke-width="0.9"/>
<rect x="130.07" y="682.19" width="2.59" height="84.51" fill="#f7b680" stroke="#f08228" stroke-width="0.9"/>
<rect x="133.31" y="680.40" width="2.59" height="86.30" fill="#f7b680" stroke="#f08228" stroke-width="0.9"/>
<rect x="136.55" y="683.99" width="2.59" height="82.71" fill="#f7b680" stroke="#f08228" stroke-width="0.9"/>
<rect x="139.79" y="686.96" width="2.59" height="79.74" fill="#f7b680" stroke="#f08228" stroke-width="0.9"/>
<rect x="143.04" y="686.96" width="2.59" height="79.74" fill="#f7b680" stroke="#f08228" stroke-width="0.9"/>
<rect x="146.28" y="686.96" width="2.59" height="79.74" fill="#f7b680" stroke="#f08228" stroke-width="0.9"/>
<rect x="149.52" y="676.80" width="2.59" height="89.90" fill="#f7b680" stroke="#f08228" stroke-width="0.9"/>
<rect x="152.76" y="679.50" width="2.59" height="87.20" fill="#f7b680" stroke="#f08228" stroke-width="0.9"/>
<rect x="156.01" y="681.56" width="2.59" height="85.14" fill="#f7b680" stroke="#f08228" stroke-width="0.9"/>
<rect x="159.25" y="710.06" width="2.59" height="56.64" fill="#f7b680" stroke="#f08228" stroke-width="0.9"/>
<rect x="162.49" y="733.98" width="2.59" height="32.72" fill="#f7b680" stroke="#f08228" stroke-width="0.9"/>
<rect x="165.73" y="727.59" width="2.59" height="39.11" fill="#f7b680" stroke="#f08228" stroke-width="0.9"/>
<rect x="168.98" y="718.42" width="2.59" height="48.28" fill="#f7b680" stroke="#f08228" stroke-width="0.9"/>
<rect x="172.22" y="724.90" width="2.59" height="41.80" fill="#f7b680" stroke="#f08228" stroke-width="0.9"/>
<rect x="175.46" y="703.14" width="2.59" height="63.56" fill="#f7b680" stroke="#f08228" stroke-width="0.9"/>
<rect x="178.70" y="679.50" width="2.59" height="87.20" fill="#f7b680" stroke="#f08228" stroke-width="0.9"/>
<rect x="181.95" y="677.43" width="2.59" height="89.27" fill="#f7b680" stroke="#f08228" stroke-width="0.9"/>
<rect x="185.19" y="682.46" width="2.59" height="84.24" fill="#f7b680" stroke="#f08228" stroke-width="0.9"/>
<rect x="188.43" y="683.27" width="2.59" height="83.43" fill="#f7b680" stroke="#f08228" stroke-width="0.9"/>
<rect x="191.67" y="682.46" width="2.59" height="84.24" fill="#f7b680" stroke="#f08228" stroke-width="0.9"/>
<rect x="194.92" y="679.50" width="2.59" height="87.20" fill="#f7b680" stroke="#f08228" stroke-width="0.9"/>
<rect x="198.16" y="676.80" width="2.59" height="89.90" fill="#f7b680" stroke="#f08228" stroke-width="0.9"/>
<rect x="201.40" y="676.80" width="2.59" height="89.90" fill="#f7b680" stroke="#f08228" stroke-width="0.9"/>
<rect x="204.64" y="676.80" width="2.59" height="89.90" fill="#f7b680" stroke="#f08228" stroke-width="0.9"/>
<rect x="207.89" y="676.80" width="2.59" height="89.90" fill="#f7b680" stroke="#f08228" stroke-width="0.9"/>
<rect x="211.13" y="676.80" width="2.59" height="89.90" fill="#f7b680" stroke="#f08228" stroke-width="0.9"/>
<rect x="214.37" y="676.80" width="2.59" height="89.90" fill="#f7b680" stroke="#f08228" stroke-width="0.9"/>
<rect x="217.61" y="676.80" width="2.59" height="89.90" fill="#f7b680" stroke="#f08228" stroke-width="0.9"/>
<rect x="220.86" y="676.80" width="2.59" height="89.90" fill="#f7b680" stroke="#f08228" stroke-width="0.9"/>
<rect x="224.10" y="676.80" width="2.59" height="89.90" fill="#f7b680" stroke="#f08228" stroke-width="0.9"/>
<rect x="227.34" y="676.80" width="2.59" height="89.90" fill="#f7b680" stroke="#f08228" stroke-width="0.9"/>
<rect x="230.58" y="676.80" width="2.59" height="89.90" fill="#f7b680" stroke="#f08228" stroke-width="0.9"/>
<rect x="233.83" y="676.80" width="2.59" height="89.90" fill="#f7b680" stroke="#f08228" stroke-width="0.9"/>
<rect x="237.07" y="676.80" width="2.59" height="89.90" fill="#f7b680" stroke="#f08228" stroke-width="0.9"/>
<rect x="240.31" y="676.80" width="2.59" height="89.90" fill="#f7b680" stroke="#f08228" stroke-width="0.9"/>
<rect x="243.55" y="676.80" width="2.59" height="89.90" fill="#f7b680" stroke="#f08228" stroke-width="0.9"/>
<rect x="246.80" y="676.80" width="2.59" height="89.90" fill="#f7b680" stroke="#f08228" stroke-width="0.9"/>
<rect x="250.04" y="698.38" width="2.59" height="68.32" fill="#f7b680" stroke="#f08228" stroke-width="0.9"/>
<rect x="253.28" y="699.81" width="2.59" height="66.89" fill="#f7b680" stroke="#f08228" stroke-width="0.9"/>
<rect x="256.52" y="679.50" width="2.59" height="87.20" fill="#f7b680" stroke="#f08228" stroke-width="0.9"/>
<rect x="259.77" y="679.50" width="2.59" height="87.20" fill="#f7b680" stroke="#f08228" stroke-width="0.9"/>
<rect x="263.01" y="682.46" width="2.59" height="84.24" fill="#f7b680" stroke="#f08228" stroke-width="0.9"/>
<rect x="266.25" y="680.85" width="2.59" height="85.85" fill="#f7b680" stroke="#f08228" stroke-width="0.9"/>
<rect x="269.49" y="676.80" width="2.59" height="89.90" fill="#f7b680" stroke="#f08228" stroke-width="0.9"/>
<rect x="272.74" y="676.80" width="2.59" height="89.90" fill="#f7b680" stroke="#f08228" stroke-width="0.9"/>
<rect x="275.98" y="676.80" width="2.59" height="89.90" fill="#f7b680" stroke="#f08228" stroke-width="0.9"/>
<rect x="279.22" y="676.80" width="2.59" height="89.90" fill="#f7b680" stroke="#f08228" stroke-width="0.9"/>
<rect x="282.46" y="676.80" width="2.59" height="89.90" fill="#f7b680" stroke="#f08228" stroke-width="0.9"/>
<rect x="285.71" y="676.80" width="2.59" height="89.90" fill="#f7b680" stroke="#f08228" stroke-width="0.9"/>
<rect x="288.95" y="676.80" width="2.59" height="89.90" fill="#f7b680" stroke="#f08228" stroke-width="0.9"/>
<rect x="292.19" y="676.80" width="2.59" height="89.90" fill="#f7b680" stroke="#f08228" stroke-width="0.9"/>
<rect x="295.43" y="676.80" width="2.59" height="89.90" fill="#f7b680" stroke="#f08228" stroke-width="0.9"/>
<rect x="298.68" y="692.98" width="2.59" height="73.72" fill="#f7b680" stroke="#f08228" stroke-width="0.9"/>
<rect x="301.92" y="714.74" width="2.59" height="51.96" fill="#f7b680" stroke="#f08228" stroke-width="0.9"/>
<rect x="305.16" y="676.80" width="2.59" height="89.90" fill="#f7b680" stroke="#f08228" stroke-width="0.9"/>
<rect x="308.40" y="676.80" width="2.59" height="89.90" fill="#f7b680" stroke="#f08228" stroke-width="0.9"/>
<rect x="311.65" y="676.80" width="2.59" height="89.90" fill="#f7b680" stroke="#f08228" stroke-width="0.9"/>
<rect x="314.89" y="676.80" width="2.59" height="89.90" fill="#f7b680" stroke="#f08228" stroke-width="0.9"/>
<rect x="318.13" y="676.80" width="2.59" height="89.90" fill="#f7b680" stroke="#f08228" stroke-width="0.9"/>
<rect x="321.37" y="680.40" width="2.59" height="86.30" fill="#f7b680" stroke="#f08228" stroke-width="0.9"/>
<rect x="324.62" y="676.80" width="2.59" height="89.90" fill="#f7b680" stroke="#f08228" stroke-width="0.9"/>
<rect x="327.86" y="676.80" width="2.59" height="89.90" fill="#f7b680" stroke="#f08228" stroke-width="0.9"/>
<rect x="331.10" y="676.80" width="2.59" height="89.90" fill="#f7b680" stroke="#f08228" stroke-width="0.9"/>
<rect x="334.34" y="676.80" width="2.59" height="89.90" fill="#f7b680" stroke="#f08228" stroke-width="0.9"/>
<rect x="337.59" y="676.80" width="2.59" height="89.90" fill="#f7b680" stroke="#f08228" stroke-width="0.9"/>
<rect x="340.83" y="676.80" width="2.59" height="89.90" fill="#f7b680" stroke="#f08228" stroke-width="0.9"/>
<rect x="344.07" y="676.80" width="2.59" height="89.90" fill="#f7b680" stroke="#f08228" stroke-width="0.9"/>
<rect x="347.31" y="676.80" width="2.59" height="89.90" fill="#f7b680" stroke="#f08228" stroke-width="0.9"/>
<rect x="350.56" y="676.80" width="2.59" height="89.90" fill="#f7b680" stroke="#f08228" stroke-width="0.9"/>
<rect x="353.80" y="676.80" width="2.59" height="89.90" fill="#f7b680" stroke="#f08228" stroke-width="0.9"/>
<rect x="357.04" y="676.80" width="2.59" height="89.90" fill="#f7b680" stroke="#f08228" stroke-width="0.9"/>
<rect x="360.28" y="676.80" width="2.59" height="89.90" fill="#f7b680" stroke="#f08228" stroke-width="0.9"/>
<rect x="363.53" y="676.80" width="2.59" height="89.90" fill="#f7b680" stroke="#f08228" stroke-width="0.9"/>
<rect x="366.77" y="676.80" width="2.59" height="89.90" fill="#f7b680" stroke="#f08228" stroke-width="0.9"/>
<rect x="370.01" y="676.80" width="2.59" height="89.90" fill="#f7b680" stroke="#f08228" stroke-width="0.9"/>
<rect x="373.25" y="681.29" width="2.59" height="85.41" fill="#f7b680" stroke="#f08228" stroke-width="0.9"/>
<rect x="376.50" y="704.76" width="2.59" height="61.94" fill="#f7b680" stroke="#f08228" stroke-width="0.9"/>
<rect x="379.74" y="722.74" width="2.59" height="43.96" fill="#f7b680" stroke="#f08228" stroke-width="0.9"/>
<rect x="382.98" y="739.10" width="2.59" height="27.60" fill="#f7b680" stroke="#f08228" stroke-width="0.9"/>
<rect x="386.22" y="749.98" width="2.59" height="16.72" fill="#f7b680" stroke="#f08228" stroke-width="0.9"/>
<rect x="389.47" y="758.79" width="2.59" height="7.91" fill="#f7b680" stroke="#f08228" stroke-width="0.9"/>
<rect x="392.71" y="751.60" width="2.59" height="15.10" fill="#f7b680" stroke="#f08228" stroke-width="0.9"/>
<rect x="395.95" y="724.90" width="2.59" height="41.80" fill="#f7b680" stroke="#f08228" stroke-width="0.9"/>
<rect x="399.19" y="708.44" width="2.59" height="58.26" fill="#f7b680" stroke="#f08228" stroke-width="0.9"/>
<rect x="402.44" y="730.74" width="2.59" height="35.96" fill="#f7b680" stroke="#f08228" stroke-width="0.9"/>
<rect x="405.68" y="764.90" width="2.59" height="1.80" fill="#f7b680" stroke="#f08228" stroke-width="0.9"/>
<rect x="408.92" y="753.22" width="2.59" height="13.49" fill="#f7b680" stroke="#f08228" stroke-width="0.9"/>
<rect x="412.16" y="713.12" width="2.59" height="53.58" fill="#f7b680" stroke="#f08228" stroke-width="0.9"/>
<rect x="415.41" y="679.50" width="2.59" height="87.20" fill="#f7b680" stroke="#f08228" stroke-width="0.9"/>
<rect x="418.65" y="677.43" width="2.59" height="89.27" fill="#f7b680" stroke="#f08228" stroke-width="0.9"/>
<rect x="421.89" y="678.33" width="2.59" height="88.37" fill="#f7b680" stroke="#f08228" stroke-width="0.9"/>
<rect x="425.13" y="677.43" width="2.59" height="89.27" fill="#f7b680" stroke="#f08228" stroke-width="0.9"/>
<rect x="428.38" y="677.43" width="2.59" height="89.27" fill="#f7b680" stroke="#f08228" stroke-width="0.9"/>
<rect x="431.62" y="689.84" width="2.59" height="76.86" fill="#f7b680" stroke="#f08228" stroke-width="0.9"/>
<rect x="434.86" y="696.58" width="2.59" height="70.12" fill="#f7b680" stroke="#f08228" stroke-width="0.9"/>
<rect x="438.10" y="706.92" width="2.59" height="59.78" fill="#f7b680" stroke="#f08228" stroke-width="0.9"/>
<rect x="441.35" y="686.15" width="2.59" height="80.55" fill="#f7b680" stroke="#f08228" stroke-width="0.9"/>
<rect x="444.59" y="683.27" width="2.59" height="83.43" fill="#f7b680" stroke="#f08228" stroke-width="0.9"/>
<rect x="447.83" y="676.80" width="2.59" height="89.90" fill="#f7b680" stroke="#f08228" stroke-width="0.9"/>
<rect x="451.07" y="676.80" width="2.59" height="89.90" fill="#f7b680" stroke="#f08228" stroke-width="0.9"/>
<rect x="454.32" y="676.80" width="2.59" height="89.90" fill="#f7b680" stroke="#f08228" stroke-width="0.9"/>
<rect x="457.56" y="676.80" width="2.59" height="89.90" fill="#f7b680" stroke="#f08228" stroke-width="0.9"/>
<rect x="460.80" y="676.80" width="2.59" height="89.90" fill="#f7b680" stroke="#f08228" stroke-width="0.9"/>
<rect x="464.04" y="676.80" width="2.59" height="89.90" fill="#f7b680" stroke="#f08228" stroke-width="0.9"/>
<rect x="467.29" y="676.80" width="2.59" height="89.90" fill="#f7b680" stroke="#f08228" stroke-width="0.9"/>
<rect x="470.53" y="676.80" width="2.59" height="89.90" fill="#f7b680" stroke="#f08228" stroke-width="0.9"/>
<rect x="473.77" y="676.80" width="2.59" height="89.90" fill="#f7b680" stroke="#f08228" stroke-width="0.9"/>
<rect x="477.01" y="676.80" width="2.59" height="89.90" fill="#f7b680" stroke="#f08228" stroke-width="0.9"/>
<rect x="480.26" y="676.80" width="2.59" height="89.90" fill="#f7b680" stroke="#f08228" stroke-width="0.9"/>
<rect x="483.50" y="681.65" width="2.59" height="85.05" fill="#f7b680" stroke="#f08228" stroke-width="0.9"/>
<rect x="486.74" y="677.88" width="2.59" height="88.82" fill="#f7b680" stroke="#f08228" stroke-width="0.9"/>
<rect x="489.98" y="683.99" width="2.59" height="82.71" fill="#f7b680" stroke="#f08228" stroke-width="0.9"/>
<rect x="493.23" y="682.19" width="2.59" height="84.51" fill="#f7b680" stroke="#f08228" stroke-width="0.9"/>
<rect x="496.47" y="679.95" width="2.59" height="86.75" fill="#f7b680" stroke="#f08228" stroke-width="0.9"/>
<rect x="499.71" y="677.70" width="2.59" height="89.00" fill="#f7b680" stroke="#f08228" stroke-width="0.9"/>
<rect x="502.95" y="676.80" width="2.59" height="89.90" fill="#f7b680" stroke="#f08228" stroke-width="0.9"/>
<rect x="506.20" y="676.80" width="2.59" height="89.90" fill="#f7b680" stroke="#f08228" stroke-width="0.9"/>
<rect x="509.44" y="676.80" width="2.59" height="89.90" fill="#f7b680" stroke="#f08228" stroke-width="0.9"/>
<rect x="512.68" y="676.80" width="2.59" height="89.90" fill="#f7b680" stroke="#f08228" stroke-width="0.9"/>
<rect x="515.92" y="676.80" width="2.59" height="89.90" fill="#f7b680" stroke="#f08228" stroke-width="0.9"/>
<rect x="519.17" y="676.80" width="2.59" height="89.90" fill="#f7b680" stroke="#f08228" stroke-width="0.9"/>
<rect x="522.41" y="676.80" width="2.59" height="89.90" fill="#f7b680" stroke="#f08228" stroke-width="0.9"/>
<rect x="525.65" y="676.80" width="2.59" height="89.90" fill="#f7b680" stroke="#f08228" stroke-width="0.9"/>
<rect x="528.89" y="676.80" width="2.59" height="89.90" fill="#f7b680" stroke="#f08228" stroke-width="0.9"/>
<rect x="532.14" y="676.80" width="2.59" height="89.90" fill="#f7b680" stroke="#f08228" stroke-width="0.9"/>
<rect x="535.38" y="676.80" width="2.59" height="89.90" fill="#f7b680" stroke="#f08228" stroke-width="0.9"/>
<rect x="538.62" y="676.80" width="2.59" height="89.90" fill="#f7b680" stroke="#f08228" stroke-width="0.9"/>
<rect x="541.86" y="676.80" width="2.59" height="89.90" fill="#f7b680" stroke="#f08228" stroke-width="0.9"/>
<rect x="545.11" y="676.80" width="2.59" height="89.90" fill="#f7b680" stroke="#f08228" stroke-width="0.9"/>
<rect x="548.35" y="676.80" width="2.59" height="89.90" fill="#f7b680" stroke="#f08228" stroke-width="0.9"/>
<rect x="551.59" y="676.80" width="2.59" height="89.90" fill="#f7b680" stroke="#f08228" stroke-width="0.9"/>
<rect x="554.83" y="676.80" width="2.59" height="89.90" fill="#f7b680" stroke="#f08228" stroke-width="0.9"/>
<rect x="558.08" y="676.80" width="2.59" height="89.90" fill="#f7b680" stroke="#f08228" stroke-width="0.9"/>
<rect x="561.32" y="676.80" width="2.59" height="89.90" fill="#f7b680" stroke="#f08228" stroke-width="0.9"/>
<rect x="564.56" y="676.80" width="2.59" height="89.90" fill="#f7b680" stroke="#f08228" stroke-width="0.9"/>
<rect x="567.80" y="676.80" width="2.59" height="89.90" fill="#f7b680" stroke="#f08228" stroke-width="0.9"/>
<rect x="571.05" y="676.80" width="2.59" height="89.90" fill="#f7b680" stroke="#f08228" stroke-width="0.9"/>
<rect x="574.29" y="676.80" width="2.59" height="89.90" fill="#f7b680" stroke="#f08228" stroke-width="0.9"/>
<rect x="577.53" y="676.80" width="2.59" height="89.90" fill="#f7b680" stroke="#f08228" stroke-width="0.9"/>
<rect x="580.77" y="676.80" width="2.59" height="89.90" fill="#f7b680" stroke="#f08228" stroke-width="0.9"/>
<rect x="584.02" y="676.80" width="2.59" height="89.90" fill="#f7b680" stroke="#f08228" stroke-width="0.9"/>
<rect x="587.26" y="676.80" width="2.59" height="89.90" fill="#f7b680" stroke="#f08228" stroke-width="0.9"/>
<rect x="590.50" y="676.80" width="2.59" height="89.90" fill="#f7b680" stroke="#f08228" stroke-width="0.9"/>
<rect x="117.10" y="763.10" width="2.59" height="3.60" fill="none" stroke="#00dc00" stroke-width="1.55"/>
<rect x="130.07" y="750.16" width="2.59" height="16.54" fill="none" stroke="#00dc00" stroke-width="1.55"/>
<rect x="133.31" y="732.90" width="2.59" height="33.80" fill="none" stroke="#00dc00" stroke-width="1.55"/>
<rect x="136.55" y="746.20" width="2.59" height="20.50" fill="none" stroke="#00dc00" stroke-width="1.55"/>
<rect x="149.52" y="764.00" width="2.59" height="2.70" fill="none" stroke="#00dc00" stroke-width="1.55"/>
<rect x="152.76" y="764.90" width="2.59" height="1.80" fill="none" stroke="#00dc00" stroke-width="1.55"/>
<rect x="156.01" y="764.90" width="2.59" height="1.80" fill="none" stroke="#00dc00" stroke-width="1.55"/>
<rect x="175.46" y="739.73" width="2.59" height="26.97" fill="none" stroke="#00dc00" stroke-width="1.55"/>
<rect x="178.70" y="731.10" width="2.59" height="35.60" fill="none" stroke="#00dc00" stroke-width="1.55"/>
<rect x="181.95" y="742.88" width="2.59" height="23.82" fill="none" stroke="#00dc00" stroke-width="1.55"/>
<rect x="185.19" y="758.97" width="2.59" height="7.73" fill="none" stroke="#00dc00" stroke-width="1.55"/>
<rect x="188.43" y="764.00" width="2.59" height="2.70" fill="none" stroke="#00dc00" stroke-width="1.55"/>
<rect x="191.67" y="764.63" width="2.59" height="2.07" fill="none" stroke="#00dc00" stroke-width="1.55"/>
<rect x="198.16" y="764.63" width="2.59" height="2.07" fill="none" stroke="#00dc00" stroke-width="1.55"/>
<rect x="201.40" y="741.98" width="2.59" height="24.72" fill="none" stroke="#00dc00" stroke-width="1.55"/>
<rect x="204.64" y="757.17" width="2.59" height="9.53" fill="none" stroke="#00dc00" stroke-width="1.55"/>
<rect x="207.89" y="761.85" width="2.59" height="4.85" fill="none" stroke="#00dc00" stroke-width="1.55"/>
<rect x="211.13" y="763.37" width="2.59" height="3.33" fill="none" stroke="#00dc00" stroke-width="1.55"/>
<rect x="214.37" y="752.77" width="2.59" height="13.93" fill="none" stroke="#00dc00" stroke-width="1.55"/>
<rect x="217.61" y="735.41" width="2.59" height="31.29" fill="none" stroke="#00dc00" stroke-width="1.55"/>
<rect x="220.86" y="718.69" width="2.59" height="48.01" fill="none" stroke="#00dc00" stroke-width="1.55"/>
<rect x="224.10" y="701.07" width="2.59" height="65.63" fill="none" stroke="#00dc00" stroke-width="1.55"/>
<rect x="227.34" y="691.18" width="2.59" height="75.52" fill="none" stroke="#00dc00" stroke-width="1.55"/>
<rect x="230.58" y="742.61" width="2.59" height="24.09" fill="none" stroke="#00dc00" stroke-width="1.55"/>
<rect x="233.83" y="763.37" width="2.59" height="3.33" fill="none" stroke="#00dc00" stroke-width="1.55"/>
<rect x="240.31" y="742.88" width="2.59" height="23.82" fill="none" stroke="#00dc00" stroke-width="1.55"/>
<rect x="243.55" y="746.02" width="2.59" height="20.68" fill="none" stroke="#00dc00" stroke-width="1.55"/>
<rect x="246.80" y="750.07" width="2.59" height="16.63" fill="none" stroke="#00dc00" stroke-width="1.55"/>
<rect x="253.28" y="750.97" width="2.59" height="15.73" fill="none" stroke="#00dc00" stroke-width="1.55"/>
<rect x="256.52" y="762.47" width="2.59" height="4.23" fill="none" stroke="#00dc00" stroke-width="1.55"/>
<rect x="259.77" y="764.00" width="2.59" height="2.70" fill="none" stroke="#00dc00" stroke-width="1.55"/>
<rect x="263.01" y="760.59" width="2.59" height="6.11" fill="none" stroke="#00dc00" stroke-width="1.55"/>
<rect x="266.25" y="755.28" width="2.59" height="11.42" fill="none" stroke="#00dc00" stroke-width="1.55"/>
<rect x="269.49" y="755.28" width="2.59" height="11.42" fill="none" stroke="#00dc00" stroke-width="1.55"/>
<rect x="295.43" y="764.00" width="2.59" height="2.70" fill="none" stroke="#00dc00" stroke-width="1.55"/>
<rect x="298.68" y="764.63" width="2.59" height="2.07" fill="none" stroke="#00dc00" stroke-width="1.55"/>
<rect x="301.92" y="759.87" width="2.59" height="6.83" fill="none" stroke="#00dc00" stroke-width="1.55"/>
<rect x="305.16" y="701.07" width="2.59" height="65.63" fill="none" stroke="#00dc00" stroke-width="1.55"/>
<rect x="308.40" y="689.84" width="2.59" height="76.86" fill="none" stroke="#00dc00" stroke-width="1.55"/>
<rect x="311.65" y="735.41" width="2.59" height="31.29" fill="none" stroke="#00dc00" stroke-width="1.55"/>
<rect x="314.89" y="754.65" width="2.59" height="12.05" fill="none" stroke="#00dc00" stroke-width="1.55"/>
<rect x="327.86" y="761.85" width="2.59" height="4.85" fill="none" stroke="#00dc00" stroke-width="1.55"/>
<rect x="331.10" y="743.33" width="2.59" height="23.37" fill="none" stroke="#00dc00" stroke-width="1.55"/>
<rect x="334.34" y="720.31" width="2.59" height="46.39" fill="none" stroke="#00dc00" stroke-width="1.55"/>
<rect x="337.59" y="709.34" width="2.59" height="57.36" fill="none" stroke="#00dc00" stroke-width="1.55"/>
<rect x="340.83" y="701.07" width="2.59" height="65.63" fill="none" stroke="#00dc00" stroke-width="1.55"/>
<rect x="344.07" y="714.11" width="2.59" height="52.59" fill="none" stroke="#00dc00" stroke-width="1.55"/>
<rect x="347.31" y="761.13" width="2.59" height="5.57" fill="none" stroke="#00dc00" stroke-width="1.55"/>
<rect x="350.56" y="691.18" width="2.59" height="75.52" fill="none" stroke="#00dc00" stroke-width="1.55"/>
<rect x="353.80" y="722.74" width="2.59" height="43.96" fill="none" stroke="#00dc00" stroke-width="1.55"/>
<rect x="357.04" y="738.29" width="2.59" height="28.41" fill="none" stroke="#00dc00" stroke-width="1.55"/>
<rect x="360.28" y="687.41" width="2.59" height="79.29" fill="none" stroke="#00dc00" stroke-width="1.55"/>
<rect x="363.53" y="724.90" width="2.59" height="41.80" fill="none" stroke="#00dc00" stroke-width="1.55"/>
<rect x="366.77" y="747.46" width="2.59" height="19.24" fill="none" stroke="#00dc00" stroke-width="1.55"/>
<rect x="370.01" y="742.88" width="2.59" height="23.82" fill="none" stroke="#00dc00" stroke-width="1.55"/>
<rect x="373.25" y="752.77" width="2.59" height="13.93" fill="none" stroke="#00dc00" stroke-width="1.55"/>
<rect x="376.50" y="754.38" width="2.59" height="12.32" fill="none" stroke="#00dc00" stroke-width="1.55"/>
<rect x="412.16" y="764.90" width="2.59" height="1.80" fill="none" stroke="#00dc00" stroke-width="1.55"/>
<rect x="415.41" y="764.90" width="2.59" height="1.80" fill="none" stroke="#00dc00" stroke-width="1.55"/>
<rect x="421.89" y="764.90" width="2.59" height="1.80" fill="none" stroke="#00dc00" stroke-width="1.55"/>
<rect x="425.13" y="764.90" width="2.59" height="1.80" fill="none" stroke="#00dc00" stroke-width="1.55"/>
<rect x="428.38" y="762.21" width="2.59" height="4.50" fill="none" stroke="#00dc00" stroke-width="1.55"/>
<rect x="431.62" y="750.97" width="2.59" height="15.73" fill="none" stroke="#00dc00" stroke-width="1.55"/>
<rect x="434.86" y="743.51" width="2.59" height="23.19" fill="none" stroke="#00dc00" stroke-width="1.55"/>
<rect x="438.10" y="728.04" width="2.59" height="38.66" fill="none" stroke="#00dc00" stroke-width="1.55"/>
<rect x="441.35" y="713.12" width="2.59" height="53.58" fill="none" stroke="#00dc00" stroke-width="1.55"/>
<rect x="444.59" y="708.44" width="2.59" height="58.26" fill="none" stroke="#00dc00" stroke-width="1.55"/>
<rect x="447.83" y="725.89" width="2.59" height="40.81" fill="none" stroke="#00dc00" stroke-width="1.55"/>
<rect x="451.07" y="760.59" width="2.59" height="6.11" fill="none" stroke="#00dc00" stroke-width="1.55"/>
<rect x="454.32" y="756.27" width="2.59" height="10.43" fill="none" stroke="#00dc00" stroke-width="1.55"/>
<rect x="457.56" y="755.91" width="2.59" height="10.79" fill="none" stroke="#00dc00" stroke-width="1.55"/>
<rect x="460.80" y="743.51" width="2.59" height="23.19" fill="none" stroke="#00dc00" stroke-width="1.55"/>
<rect x="467.29" y="754.11" width="2.59" height="12.59" fill="none" stroke="#00dc00" stroke-width="1.55"/>
<rect x="470.53" y="752.77" width="2.59" height="13.93" fill="none" stroke="#00dc00" stroke-width="1.55"/>
<rect x="473.77" y="753.39" width="2.59" height="13.31" fill="none" stroke="#00dc00" stroke-width="1.55"/>
<rect x="477.01" y="751.96" width="2.59" height="14.74" fill="none" stroke="#00dc00" stroke-width="1.55"/>
<rect x="480.26" y="742.25" width="2.59" height="24.45" fill="none" stroke="#00dc00" stroke-width="1.55"/>
<rect x="483.50" y="742.88" width="2.59" height="23.82" fill="none" stroke="#00dc00" stroke-width="1.55"/>
<rect x="486.74" y="738.56" width="2.59" height="28.14" fill="none" stroke="#00dc00" stroke-width="1.55"/>
<rect x="489.98" y="736.67" width="2.59" height="30.03" fill="none" stroke="#00dc00" stroke-width="1.55"/>
<rect x="493.23" y="723.01" width="2.59" height="43.69" fill="none" stroke="#00dc00" stroke-width="1.55"/>
<rect x="496.47" y="734.79" width="2.59" height="31.91" fill="none" stroke="#00dc00" stroke-width="1.55"/>
<rect x="499.71" y="747.55" width="2.59" height="19.15" fill="none" stroke="#00dc00" stroke-width="1.55"/>
<rect x="502.95" y="711.41" width="2.59" height="55.29" fill="none" stroke="#00dc00" stroke-width="1.55"/>
<rect x="506.20" y="683.99" width="2.59" height="82.71" fill="none" stroke="#00dc00" stroke-width="1.55"/>
<rect x="509.44" y="689.75" width="2.59" height="76.95" fill="none" stroke="#00dc00" stroke-width="1.55"/>
<rect x="512.68" y="676.80" width="2.59" height="89.90" fill="none" stroke="#00dc00" stroke-width="1.55"/>
<rect x="515.92" y="676.80" width="2.59" height="89.90" fill="none" stroke="#00dc00" stroke-width="1.55"/>
<rect x="519.17" y="676.80" width="2.59" height="89.90" fill="none" stroke="#00dc00" stroke-width="1.55"/>
<rect x="522.41" y="676.80" width="2.59" height="89.90" fill="none" stroke="#00dc00" stroke-width="1.55"/>
<rect x="525.65" y="676.80" width="2.59" height="89.90" fill="none" stroke="#00dc00" stroke-width="1.55"/>
<rect x="528.89" y="676.80" width="2.59" height="89.90" fill="none" stroke="#00dc00" stroke-width="1.55"/>
<rect x="532.14" y="676.80" width="2.59" height="89.90" fill="none" stroke="#00dc00" stroke-width="1.55"/>
<rect x="535.38" y="676.80" width="2.59" height="89.90" fill="none" stroke="#00dc00" stroke-width="1.55"/>
<rect x="538.62" y="676.80" width="2.59" height="89.90" fill="none" stroke="#00dc00" stroke-width="1.55"/>
<rect x="541.86" y="676.80" width="2.59" height="89.90" fill="none" stroke="#00dc00" stroke-width="1.55"/>
<rect x="545.11" y="676.80" width="2.59" height="89.90" fill="none" stroke="#00dc00" stroke-width="1.55"/>
<rect x="548.35" y="676.80" width="2.59" height="89.90" fill="none" stroke="#00dc00" stroke-width="1.55"/>
<rect x="551.59" y="676.80" width="2.59" height="89.90" fill="none" stroke="#00dc00" stroke-width="1.55"/>
<rect x="554.83" y="676.80" width="2.59" height="89.90" fill="none" stroke="#00dc00" stroke-width="1.55"/>
<rect x="558.08" y="676.80" width="2.59" height="89.90" fill="none" stroke="#00dc00" stroke-width="1.55"/>
<rect x="561.32" y="676.80" width="2.59" height="89.90" fill="none" stroke="#00dc00" stroke-width="1.55"/>
<rect x="564.56" y="676.80" width="2.59" height="89.90" fill="none" stroke="#00dc00" stroke-width="1.55"/>
<rect x="567.80" y="676.80" width="2.59" height="89.90" fill="none" stroke="#00dc00" stroke-width="1.55"/>
<rect x="571.05" y="676.80" width="2.59" height="89.90" fill="none" stroke="#00dc00" stroke-width="1.55"/>
<rect x="574.29" y="676.80" width="2.59" height="89.90" fill="none" stroke="#00dc00" stroke-width="1.55"/>
<rect x="577.53" y="676.80" width="2.59" height="89.90" fill="none" stroke="#00dc00" stroke-width="1.55"/>
<rect x="580.77" y="676.80" width="2.59" height="89.90" fill="none" stroke="#00dc00" stroke-width="1.55"/>
<rect x="584.02" y="676.80" width="2.59" height="89.90" fill="none" stroke="#00dc00" stroke-width="1.55"/>
<rect x="587.26" y="676.80" width="2.59" height="89.90" fill="none" stroke="#00dc00" stroke-width="1.55"/>
<rect x="590.50" y="676.80" width="2.59" height="89.90" fill="none" stroke="#00dc00" stroke-width="1.55"/>
</g>
<line x1="50.3" y1="748.72" x2="591.7" y2="748.72" stroke="#a6a6a6" stroke-width="1.5" stroke-dasharray="1.5 4.985" stroke-dashoffset="0.45"/>
<line x1="50.3" y1="730.74" x2="591.7" y2="730.74" stroke="#a6a6a6" stroke-width="1.5" stroke-dasharray="1.5 4.985" stroke-dashoffset="0.45"/>
<line x1="50.3" y1="712.76" x2="591.7" y2="712.76" stroke="#a6a6a6" stroke-width="1.5" stroke-dasharray="1.5 4.985" stroke-dashoffset="0.45"/>
<line x1="50.3" y1="694.78" x2="591.7" y2="694.78" stroke="#a6a6a6" stroke-width="1.5" stroke-dasharray="1.5 4.985" stroke-dashoffset="0.45"/>
<line x1="128.12" y1="766.7" x2="128.12" y2="676.8" stroke="#a6a6a6" stroke-width="1.5" stroke-dasharray="1.5 4.985" stroke-dashoffset="0.75"/>
<line x1="205.94" y1="766.7" x2="205.94" y2="676.8" stroke="#a6a6a6" stroke-width="1.5" stroke-dasharray="1.5 4.985" stroke-dashoffset="0.75"/>
<line x1="283.76" y1="766.7" x2="283.76" y2="676.8" stroke="#a6a6a6" stroke-width="1.5" stroke-dasharray="1.5 4.985" stroke-dashoffset="0.75"/>
<line x1="361.58" y1="766.7" x2="361.58" y2="676.8" stroke="#a6a6a6" stroke-width="1.5" stroke-dasharray="1.5 4.985" stroke-dashoffset="0.75"/>
<line x1="439.40" y1="766.7" x2="439.40" y2="676.8" stroke="#a6a6a6" stroke-width="1.5" stroke-dasharray="1.5 4.985" stroke-dashoffset="0.75"/>
<line x1="517.22" y1="766.7" x2="517.22" y2="676.8" stroke="#a6a6a6" stroke-width="1.5" stroke-dasharray="1.5 4.985" stroke-dashoffset="0.75"/>
<line x1="50.3" y1="676.8" x2="591.7" y2="676.8" stroke="#b4b4b4" stroke-width="1.2"/>
<line x1="50.3" y1="766.7" x2="591.7" y2="766.7" stroke="#b4b4b4" stroke-width="1.2"/>
<line x1="50.3" y1="676.8" x2="50.3" y2="766.7" stroke="#b4b4b4" stroke-width="1.2"/>
<line x1="50.3" y1="676.8" x2="591.7" y2="676.8" stroke="#000" stroke-width="1.5" stroke-dasharray="5 1.5"/>
<line x1="50.3" y1="766.7" x2="591.7" y2="766.7" stroke="#000" stroke-width="1.5" stroke-dasharray="5 1.5"/>
<line x1="50.3" y1="676.8" x2="50.3" y2="766.7" stroke="#000" stroke-width="1.5" stroke-dasharray="5 1.5"/>
<line x1="591.7" y1="676.0999999999999" x2="591.7" y2="767.4000000000001" stroke="#000" stroke-width="1.6"/>
<line x1="46.6" y1="766.70" x2="50.3" y2="766.70" stroke="#000" stroke-width="1.2"/>
<text x="37.90" y="771.05" font-size="12.1" fill="#000" stroke="#000" stroke-width="0.45" textLength="5.70" lengthAdjust="spacingAndGlyphs">0</text>
<line x1="46.6" y1="748.72" x2="50.3" y2="748.72" stroke="#000" stroke-width="1.2"/>
<text x="32.20" y="753.07" font-size="12.1" fill="#000" stroke="#000" stroke-width="0.45" textLength="11.40" lengthAdjust="spacingAndGlyphs">20</text>
<line x1="46.6" y1="730.74" x2="50.3" y2="730.74" stroke="#000" stroke-width="1.2"/>
<text x="32.20" y="735.09" font-size="12.1" fill="#000" stroke="#000" stroke-width="0.45" textLength="11.40" lengthAdjust="spacingAndGlyphs">40</text>
<line x1="46.6" y1="712.76" x2="50.3" y2="712.76" stroke="#000" stroke-width="1.2"/>
<text x="32.20" y="717.11" font-size="12.1" fill="#000" stroke="#000" stroke-width="0.45" textLength="11.40" lengthAdjust="spacingAndGlyphs">60</text>
<line x1="46.6" y1="694.78" x2="50.3" y2="694.78" stroke="#000" stroke-width="1.2"/>
<text x="32.20" y="699.13" font-size="12.1" fill="#000" stroke="#000" stroke-width="0.45" textLength="11.40" lengthAdjust="spacingAndGlyphs">80</text>
<line x1="46.6" y1="676.80" x2="50.3" y2="676.80" stroke="#000" stroke-width="1.2"/>
<text x="26.05" y="681.15" font-size="12.1" fill="#000" stroke="#000" stroke-width="0.45" textLength="17.55" lengthAdjust="spacingAndGlyphs">100</text>
<line x1="50.30" y1="766.7" x2="50.30" y2="770.7" stroke="#000" stroke-width="1.2"/>
<text x="38.25" y="780.70" font-size="12.4" fill="#000" stroke="#000" stroke-width="0.45" textLength="24.10" lengthAdjust="spacingAndGlyphs">7APR</text>
<line x1="128.12" y1="766.7" x2="128.12" y2="770.7" stroke="#000" stroke-width="1.2"/>
<text x="116.07" y="780.70" font-size="12.4" fill="#000" stroke="#000" stroke-width="0.45" textLength="24.10" lengthAdjust="spacingAndGlyphs">8APR</text>
<line x1="205.94" y1="766.7" x2="205.94" y2="770.7" stroke="#000" stroke-width="1.2"/>
<text x="193.89" y="780.70" font-size="12.4" fill="#000" stroke="#000" stroke-width="0.45" textLength="24.10" lengthAdjust="spacingAndGlyphs">9APR</text>
<line x1="283.76" y1="766.7" x2="283.76" y2="770.7" stroke="#000" stroke-width="1.2"/>
<text x="268.86" y="780.70" font-size="12.4" fill="#000" stroke="#000" stroke-width="0.45" textLength="29.80" lengthAdjust="spacingAndGlyphs">10APR</text>
<line x1="361.58" y1="766.7" x2="361.58" y2="770.7" stroke="#000" stroke-width="1.2"/>
<text x="346.68" y="780.70" font-size="12.4" fill="#000" stroke="#000" stroke-width="0.45" textLength="29.80" lengthAdjust="spacingAndGlyphs">11APR</text>
<line x1="439.40" y1="766.7" x2="439.40" y2="770.7" stroke="#000" stroke-width="1.2"/>
<text x="424.50" y="780.70" font-size="12.4" fill="#000" stroke="#000" stroke-width="0.45" textLength="29.80" lengthAdjust="spacingAndGlyphs">12APR</text>
<line x1="517.22" y1="766.7" x2="517.22" y2="770.7" stroke="#000" stroke-width="1.2"/>
<text x="502.32" y="780.70" font-size="12.4" fill="#000" stroke="#000" stroke-width="0.45" textLength="29.80" lengthAdjust="spacingAndGlyphs">13APR</text>
<text x="38.30" y="792.00" font-size="12.4" fill="#000" stroke="#000" stroke-width="0.45" textLength="24.00" lengthAdjust="spacingAndGlyphs">2026</text>
<g clip-path="url(#c6)">
<rect x="52.25" y="753.39" width="2.59" height="13.31" fill="none" stroke="#1e3cff" stroke-width="1.35"/>
<rect x="55.49" y="762.21" width="2.59" height="4.50" fill="none" stroke="#1e3cff" stroke-width="1.35"/>
<rect x="58.73" y="765.80" width="2.59" height="0.90" fill="none" stroke="#1e3cff" stroke-width="1.35"/>
<rect x="61.97" y="765.26" width="2.59" height="1.44" fill="none" stroke="#1e3cff" stroke-width="1.35"/>
<rect x="65.22" y="747.19" width="2.59" height="19.51" fill="none" stroke="#1e3cff" stroke-width="1.35"/>
<rect x="68.46" y="743.78" width="2.59" height="22.92" fill="none" stroke="#1e3cff" stroke-width="1.35"/>
<rect x="71.70" y="766.70" width="2.59" height="0.00" fill="none" stroke="#1e3cff" stroke-width="1.35"/>
<rect x="74.94" y="762.21" width="2.59" height="4.50" fill="none" stroke="#1e3cff" stroke-width="1.35"/>
<rect x="78.19" y="756.36" width="2.59" height="10.34" fill="none" stroke="#1e3cff" stroke-width="1.35"/>
<rect x="81.43" y="766.25" width="2.59" height="0.45" fill="none" stroke="#1e3cff" stroke-width="1.35"/>
<rect x="84.67" y="766.25" width="2.59" height="0.45" fill="none" stroke="#1e3cff" stroke-width="1.35"/>
<rect x="87.91" y="766.25" width="2.59" height="0.45" fill="none" stroke="#1e3cff" stroke-width="1.35"/>
<rect x="91.16" y="766.25" width="2.59" height="0.45" fill="none" stroke="#1e3cff" stroke-width="1.35"/>
<rect x="94.40" y="766.25" width="2.59" height="0.45" fill="none" stroke="#1e3cff" stroke-width="1.35"/>
<rect x="97.64" y="766.25" width="2.59" height="0.45" fill="none" stroke="#1e3cff" stroke-width="1.35"/>
<rect x="100.88" y="766.25" width="2.59" height="0.45" fill="none" stroke="#1e3cff" stroke-width="1.35"/>
<rect x="104.13" y="766.25" width="2.59" height="0.45" fill="none" stroke="#1e3cff" stroke-width="1.35"/>
<rect x="107.37" y="764.90" width="2.59" height="1.80" fill="none" stroke="#1e3cff" stroke-width="1.35"/>
<rect x="110.61" y="766.25" width="2.59" height="0.45" fill="none" stroke="#1e3cff" stroke-width="1.35"/>
<rect x="113.85" y="760.86" width="2.59" height="5.84" fill="none" stroke="#1e3cff" stroke-width="1.35"/>
<rect x="117.10" y="745.48" width="2.59" height="21.22" fill="none" stroke="#1e3cff" stroke-width="1.35"/>
<rect x="120.34" y="744.49" width="2.59" height="22.21" fill="none" stroke="#1e3cff" stroke-width="1.35"/>
<rect x="123.58" y="748.00" width="2.59" height="18.70" fill="none" stroke="#1e3cff" stroke-width="1.35"/>
<rect x="126.82" y="733.17" width="2.59" height="33.53" fill="none" stroke="#1e3cff" stroke-width="1.35"/>
<rect x="130.07" y="717.97" width="2.59" height="48.73" fill="none" stroke="#1e3cff" stroke-width="1.35"/>
<rect x="133.31" y="708.89" width="2.59" height="57.81" fill="none" stroke="#1e3cff" stroke-width="1.35"/>
<rect x="136.55" y="713.39" width="2.59" height="53.31" fill="none" stroke="#1e3cff" stroke-width="1.35"/>
<rect x="139.79" y="753.84" width="2.59" height="12.86" fill="none" stroke="#1e3cff" stroke-width="1.35"/>
<rect x="143.04" y="761.85" width="2.59" height="4.85" fill="none" stroke="#1e3cff" stroke-width="1.35"/>
<rect x="146.28" y="761.85" width="2.59" height="4.85" fill="none" stroke="#1e3cff" stroke-width="1.35"/>
<rect x="149.52" y="743.96" width="2.59" height="22.74" fill="none" stroke="#1e3cff" stroke-width="1.35"/>
<rect x="152.76" y="721.21" width="2.59" height="45.49" fill="none" stroke="#1e3cff" stroke-width="1.35"/>
<rect x="156.01" y="726.60" width="2.59" height="40.10" fill="none" stroke="#1e3cff" stroke-width="1.35"/>
<rect x="159.25" y="735.06" width="2.59" height="31.64" fill="none" stroke="#1e3cff" stroke-width="1.35"/>
<rect x="162.49" y="746.20" width="2.59" height="20.50" fill="none" stroke="#1e3cff" stroke-width="1.35"/>
<rect x="165.73" y="740.27" width="2.59" height="26.43" fill="none" stroke="#1e3cff" stroke-width="1.35"/>
<rect x="168.98" y="720.13" width="2.59" height="46.57" fill="none" stroke="#1e3cff" stroke-width="1.35"/>
<rect x="172.22" y="683.27" width="2.59" height="83.43" fill="none" stroke="#1e3cff" stroke-width="1.35"/>
<rect x="175.46" y="706.02" width="2.59" height="60.68" fill="none" stroke="#1e3cff" stroke-width="1.35"/>
<rect x="178.70" y="705.03" width="2.59" height="61.67" fill="none" stroke="#1e3cff" stroke-width="1.35"/>
<rect x="181.95" y="725.89" width="2.59" height="40.81" fill="none" stroke="#1e3cff" stroke-width="1.35"/>
<rect x="185.19" y="751.15" width="2.59" height="15.55" fill="none" stroke="#1e3cff" stroke-width="1.35"/>
<rect x="188.43" y="750.07" width="2.59" height="16.63" fill="none" stroke="#1e3cff" stroke-width="1.35"/>
<rect x="191.67" y="757.17" width="2.59" height="9.53" fill="none" stroke="#1e3cff" stroke-width="1.35"/>
<rect x="194.92" y="760.23" width="2.59" height="6.47" fill="none" stroke="#1e3cff" stroke-width="1.35"/>
<rect x="198.16" y="743.87" width="2.59" height="22.83" fill="none" stroke="#1e3cff" stroke-width="1.35"/>
<rect x="201.40" y="750.97" width="2.59" height="15.73" fill="none" stroke="#1e3cff" stroke-width="1.35"/>
<rect x="204.64" y="752.14" width="2.59" height="14.56" fill="none" stroke="#1e3cff" stroke-width="1.35"/>
<rect x="207.89" y="753.66" width="2.59" height="13.04" fill="none" stroke="#1e3cff" stroke-width="1.35"/>
<rect x="211.13" y="737.30" width="2.59" height="29.40" fill="none" stroke="#1e3cff" stroke-width="1.35"/>
<rect x="214.37" y="734.16" width="2.59" height="32.54" fill="none" stroke="#1e3cff" stroke-width="1.35"/>
<rect x="217.61" y="707.73" width="2.59" height="58.97" fill="none" stroke="#1e3cff" stroke-width="1.35"/>
<rect x="220.86" y="709.34" width="2.59" height="57.36" fill="none" stroke="#1e3cff" stroke-width="1.35"/>
<rect x="224.10" y="718.42" width="2.59" height="48.28" fill="none" stroke="#1e3cff" stroke-width="1.35"/>
<rect x="227.34" y="730.20" width="2.59" height="36.50" fill="none" stroke="#1e3cff" stroke-width="1.35"/>
<rect x="230.58" y="745.75" width="2.59" height="20.95" fill="none" stroke="#1e3cff" stroke-width="1.35"/>
<rect x="233.83" y="746.20" width="2.59" height="20.50" fill="none" stroke="#1e3cff" stroke-width="1.35"/>
<rect x="237.07" y="746.20" width="2.59" height="20.50" fill="none" stroke="#1e3cff" stroke-width="1.35"/>
<rect x="240.31" y="698.83" width="2.59" height="67.87" fill="none" stroke="#1e3cff" stroke-width="1.35"/>
<rect x="243.55" y="707.91" width="2.59" height="58.79" fill="none" stroke="#1e3cff" stroke-width="1.35"/>
<rect x="246.80" y="709.34" width="2.59" height="57.36" fill="none" stroke="#1e3cff" stroke-width="1.35"/>
<rect x="250.04" y="696.94" width="2.59" height="69.76" fill="none" stroke="#1e3cff" stroke-width="1.35"/>
<rect x="253.28" y="703.14" width="2.59" height="63.56" fill="none" stroke="#1e3cff" stroke-width="1.35"/>
<rect x="256.52" y="707.91" width="2.59" height="58.79" fill="none" stroke="#1e3cff" stroke-width="1.35"/>
<rect x="259.77" y="726.69" width="2.59" height="40.01" fill="none" stroke="#1e3cff" stroke-width="1.35"/>
<rect x="263.01" y="730.83" width="2.59" height="35.87" fill="none" stroke="#1e3cff" stroke-width="1.35"/>
<rect x="266.25" y="737.30" width="2.59" height="29.40" fill="none" stroke="#1e3cff" stroke-width="1.35"/>
<rect x="269.49" y="759.96" width="2.59" height="6.74" fill="none" stroke="#1e3cff" stroke-width="1.35"/>
<rect x="272.74" y="764.00" width="2.59" height="2.70" fill="none" stroke="#1e3cff" stroke-width="1.35"/>
<rect x="275.98" y="765.80" width="2.59" height="0.90" fill="none" stroke="#1e3cff" stroke-width="1.35"/>
<rect x="279.22" y="766.25" width="2.59" height="0.45" fill="none" stroke="#1e3cff" stroke-width="1.35"/>
<rect x="282.46" y="766.25" width="2.59" height="0.45" fill="none" stroke="#1e3cff" stroke-width="1.35"/>
<rect x="285.71" y="766.25" width="2.59" height="0.45" fill="none" stroke="#1e3cff" stroke-width="1.35"/>
<rect x="288.95" y="766.25" width="2.59" height="0.45" fill="none" stroke="#1e3cff" stroke-width="1.35"/>
<rect x="292.19" y="766.25" width="2.59" height="0.45" fill="none" stroke="#1e3cff" stroke-width="1.35"/>
<rect x="295.43" y="759.51" width="2.59" height="7.19" fill="none" stroke="#1e3cff" stroke-width="1.35"/>
<rect x="298.68" y="766.25" width="2.59" height="0.45" fill="none" stroke="#1e3cff" stroke-width="1.35"/>
<rect x="301.92" y="765.35" width="2.59" height="1.35" fill="none" stroke="#1e3cff" stroke-width="1.35"/>
<rect x="305.16" y="706.29" width="2.59" height="60.41" fill="none" stroke="#1e3cff" stroke-width="1.35"/>
<rect x="308.40" y="686.15" width="2.59" height="80.55" fill="none" stroke="#1e3cff" stroke-width="1.35"/>
<rect x="311.65" y="699.81" width="2.59" height="66.89" fill="none" stroke="#1e3cff" stroke-width="1.35"/>
<rect x="314.89" y="708.44" width="2.59" height="58.26" fill="none" stroke="#1e3cff" stroke-width="1.35"/>
<rect x="318.13" y="715.91" width="2.59" height="50.79" fill="none" stroke="#1e3cff" stroke-width="1.35"/>
<rect x="321.37" y="701.25" width="2.59" height="65.45" fill="none" stroke="#1e3cff" stroke-width="1.35"/>
<rect x="324.62" y="678.96" width="2.59" height="87.74" fill="none" stroke="#1e3cff" stroke-width="1.35"/>
<rect x="327.86" y="684.89" width="2.59" height="81.81" fill="none" stroke="#1e3cff" stroke-width="1.35"/>
<rect x="331.10" y="720.85" width="2.59" height="45.85" fill="none" stroke="#1e3cff" stroke-width="1.35"/>
<rect x="334.34" y="732.09" width="2.59" height="34.61" fill="none" stroke="#1e3cff" stroke-width="1.35"/>
<rect x="337.59" y="753.75" width="2.59" height="12.95" fill="none" stroke="#1e3cff" stroke-width="1.35"/>
<rect x="340.83" y="762.12" width="2.59" height="4.58" fill="none" stroke="#1e3cff" stroke-width="1.35"/>
<rect x="344.07" y="765.80" width="2.59" height="0.90" fill="none" stroke="#1e3cff" stroke-width="1.35"/>
<rect x="347.31" y="765.80" width="2.59" height="0.90" fill="none" stroke="#1e3cff" stroke-width="1.35"/>
<rect x="350.56" y="765.80" width="2.59" height="0.90" fill="none" stroke="#1e3cff" stroke-width="1.35"/>
<rect x="353.80" y="765.80" width="2.59" height="0.90" fill="none" stroke="#1e3cff" stroke-width="1.35"/>
<rect x="357.04" y="763.37" width="2.59" height="3.33" fill="none" stroke="#1e3cff" stroke-width="1.35"/>
<rect x="360.28" y="765.80" width="2.59" height="0.90" fill="none" stroke="#1e3cff" stroke-width="1.35"/>
<rect x="363.53" y="766.07" width="2.59" height="0.63" fill="none" stroke="#1e3cff" stroke-width="1.35"/>
<rect x="366.77" y="765.80" width="2.59" height="0.90" fill="none" stroke="#1e3cff" stroke-width="1.35"/>
<rect x="370.01" y="765.17" width="2.59" height="1.53" fill="none" stroke="#1e3cff" stroke-width="1.35"/>
<rect x="373.25" y="759.42" width="2.59" height="7.28" fill="none" stroke="#1e3cff" stroke-width="1.35"/>
<rect x="376.50" y="764.00" width="2.59" height="2.70" fill="none" stroke="#1e3cff" stroke-width="1.35"/>
<rect x="379.74" y="765.80" width="2.59" height="0.90" fill="none" stroke="#1e3cff" stroke-width="1.35"/>
<rect x="382.98" y="764.90" width="2.59" height="1.80" fill="none" stroke="#1e3cff" stroke-width="1.35"/>
<rect x="386.22" y="759.87" width="2.59" height="6.83" fill="none" stroke="#1e3cff" stroke-width="1.35"/>
<rect x="389.47" y="757.17" width="2.59" height="9.53" fill="none" stroke="#1e3cff" stroke-width="1.35"/>
<rect x="392.71" y="743.87" width="2.59" height="22.83" fill="none" stroke="#1e3cff" stroke-width="1.35"/>
<rect x="395.95" y="694.78" width="2.59" height="71.92" fill="none" stroke="#1e3cff" stroke-width="1.35"/>
<rect x="399.19" y="692.08" width="2.59" height="74.62" fill="none" stroke="#1e3cff" stroke-width="1.35"/>
<rect x="402.44" y="719.32" width="2.59" height="47.38" fill="none" stroke="#1e3cff" stroke-width="1.35"/>
<rect x="405.68" y="734.16" width="2.59" height="32.54" fill="none" stroke="#1e3cff" stroke-width="1.35"/>
<rect x="408.92" y="696.04" width="2.59" height="70.66" fill="none" stroke="#1e3cff" stroke-width="1.35"/>
<rect x="412.16" y="696.94" width="2.59" height="69.76" fill="none" stroke="#1e3cff" stroke-width="1.35"/>
<rect x="415.41" y="714.11" width="2.59" height="52.59" fill="none" stroke="#1e3cff" stroke-width="1.35"/>
<rect x="418.65" y="727.59" width="2.59" height="39.11" fill="none" stroke="#1e3cff" stroke-width="1.35"/>
<rect x="421.89" y="720.31" width="2.59" height="46.39" fill="none" stroke="#1e3cff" stroke-width="1.35"/>
<rect x="425.13" y="740.99" width="2.59" height="25.71" fill="none" stroke="#1e3cff" stroke-width="1.35"/>
<rect x="428.38" y="754.65" width="2.59" height="12.05" fill="none" stroke="#1e3cff" stroke-width="1.35"/>
<rect x="431.62" y="755.91" width="2.59" height="10.79" fill="none" stroke="#1e3cff" stroke-width="1.35"/>
<rect x="434.86" y="755.28" width="2.59" height="11.42" fill="none" stroke="#1e3cff" stroke-width="1.35"/>
<rect x="438.10" y="745.39" width="2.59" height="21.31" fill="none" stroke="#1e3cff" stroke-width="1.35"/>
<rect x="441.35" y="715.55" width="2.59" height="51.15" fill="none" stroke="#1e3cff" stroke-width="1.35"/>
<rect x="444.59" y="728.31" width="2.59" height="38.39" fill="none" stroke="#1e3cff" stroke-width="1.35"/>
<rect x="447.83" y="756.27" width="2.59" height="10.43" fill="none" stroke="#1e3cff" stroke-width="1.35"/>
<rect x="451.07" y="758.97" width="2.59" height="7.73" fill="none" stroke="#1e3cff" stroke-width="1.35"/>
<rect x="454.32" y="758.16" width="2.59" height="8.54" fill="none" stroke="#1e3cff" stroke-width="1.35"/>
<rect x="457.56" y="734.79" width="2.59" height="31.91" fill="none" stroke="#1e3cff" stroke-width="1.35"/>
<rect x="460.80" y="698.83" width="2.59" height="67.87" fill="none" stroke="#1e3cff" stroke-width="1.35"/>
<rect x="464.04" y="696.94" width="2.59" height="69.76" fill="none" stroke="#1e3cff" stroke-width="1.35"/>
<rect x="467.29" y="728.94" width="2.59" height="37.76" fill="none" stroke="#1e3cff" stroke-width="1.35"/>
<rect x="470.53" y="709.34" width="2.59" height="57.36" fill="none" stroke="#1e3cff" stroke-width="1.35"/>
<rect x="473.77" y="699.81" width="2.59" height="66.89" fill="none" stroke="#1e3cff" stroke-width="1.35"/>
<rect x="477.01" y="691.36" width="2.59" height="75.34" fill="none" stroke="#1e3cff" stroke-width="1.35"/>
<rect x="480.26" y="692.35" width="2.59" height="74.35" fill="none" stroke="#1e3cff" stroke-width="1.35"/>
<rect x="483.50" y="700.71" width="2.59" height="65.99" fill="none" stroke="#1e3cff" stroke-width="1.35"/>
<rect x="486.74" y="713.93" width="2.59" height="52.77" fill="none" stroke="#1e3cff" stroke-width="1.35"/>
<rect x="489.98" y="746.02" width="2.59" height="20.68" fill="none" stroke="#1e3cff" stroke-width="1.35"/>
<rect x="493.23" y="748.00" width="2.59" height="18.70" fill="none" stroke="#1e3cff" stroke-width="1.35"/>
<rect x="496.47" y="754.56" width="2.59" height="12.14" fill="none" stroke="#1e3cff" stroke-width="1.35"/>
<rect x="499.71" y="757.17" width="2.59" height="9.53" fill="none" stroke="#1e3cff" stroke-width="1.35"/>
<rect x="502.95" y="741.98" width="2.59" height="24.72" fill="none" stroke="#1e3cff" stroke-width="1.35"/>
<rect x="506.20" y="746.92" width="2.59" height="19.78" fill="none" stroke="#1e3cff" stroke-width="1.35"/>
<rect x="509.44" y="765.80" width="2.59" height="0.90" fill="none" stroke="#1e3cff" stroke-width="1.35"/>
<rect x="512.68" y="752.77" width="2.59" height="13.93" fill="none" stroke="#1e3cff" stroke-width="1.35"/>
<rect x="515.92" y="735.77" width="2.59" height="30.93" fill="none" stroke="#1e3cff" stroke-width="1.35"/>
<rect x="519.17" y="755.28" width="2.59" height="11.42" fill="none" stroke="#1e3cff" stroke-width="1.35"/>
<rect x="522.41" y="763.10" width="2.59" height="3.60" fill="none" stroke="#1e3cff" stroke-width="1.35"/>
<rect x="525.65" y="754.38" width="2.59" height="12.32" fill="none" stroke="#1e3cff" stroke-width="1.35"/>
<rect x="528.89" y="740.00" width="2.59" height="26.70" fill="none" stroke="#1e3cff" stroke-width="1.35"/>
<rect x="532.14" y="760.86" width="2.59" height="5.84" fill="none" stroke="#1e3cff" stroke-width="1.35"/>
<rect x="535.38" y="758.16" width="2.59" height="8.54" fill="none" stroke="#1e3cff" stroke-width="1.35"/>
<rect x="538.62" y="758.97" width="2.59" height="7.73" fill="none" stroke="#1e3cff" stroke-width="1.35"/>
<rect x="541.86" y="744.76" width="2.59" height="21.94" fill="none" stroke="#1e3cff" stroke-width="1.35"/>
<rect x="545.11" y="707.73" width="2.59" height="58.97" fill="none" stroke="#1e3cff" stroke-width="1.35"/>
<rect x="548.35" y="710.24" width="2.59" height="56.46" fill="none" stroke="#1e3cff" stroke-width="1.35"/>
<rect x="551.59" y="727.59" width="2.59" height="39.11" fill="none" stroke="#1e3cff" stroke-width="1.35"/>
<rect x="554.83" y="737.30" width="2.59" height="29.40" fill="none" stroke="#1e3cff" stroke-width="1.35"/>
<rect x="558.08" y="735.77" width="2.59" height="30.93" fill="none" stroke="#1e3cff" stroke-width="1.35"/>
<rect x="561.32" y="711.23" width="2.59" height="55.47" fill="none" stroke="#1e3cff" stroke-width="1.35"/>
<rect x="564.56" y="722.11" width="2.59" height="44.59" fill="none" stroke="#1e3cff" stroke-width="1.35"/>
<rect x="567.80" y="733.89" width="2.59" height="32.81" fill="none" stroke="#1e3cff" stroke-width="1.35"/>
<rect x="571.05" y="747.19" width="2.59" height="19.51" fill="none" stroke="#1e3cff" stroke-width="1.35"/>
<rect x="574.29" y="762.12" width="2.59" height="4.58" fill="none" stroke="#1e3cff" stroke-width="1.35"/>
<rect x="577.53" y="764.36" width="2.59" height="2.34" fill="none" stroke="#1e3cff" stroke-width="1.35"/>
<rect x="580.77" y="766.07" width="2.59" height="0.63" fill="none" stroke="#1e3cff" stroke-width="1.35"/>
<rect x="584.02" y="766.07" width="2.59" height="0.63" fill="none" stroke="#1e3cff" stroke-width="1.35"/>
<rect x="587.26" y="766.43" width="2.59" height="0.27" fill="none" stroke="#1e3cff" stroke-width="1.35"/>
<rect x="590.50" y="766.43" width="2.59" height="0.27" fill="none" stroke="#1e3cff" stroke-width="1.35"/>
</g>
</svg>
</body></html>
